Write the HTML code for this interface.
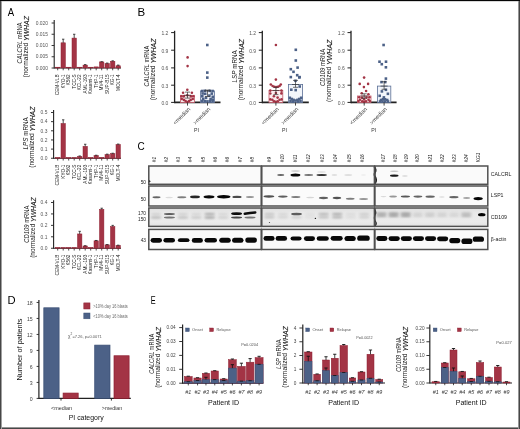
<!DOCTYPE html>
<html><head><meta charset="utf-8"><style>
html,body{margin:0;padding:0;background:#fff;}
#fig{position:relative;width:520px;height:429px;overflow:hidden;background:#fff;}
svg{position:absolute;left:0;top:0;will-change:transform;}
text{font-family:"Liberation Sans", sans-serif;}
</style></head><body><div id="fig">
<svg width="520" height="429" viewBox="0 0 520 429">
<rect x="0" y="0" width="520" height="429" fill="#fff"/>
<text x="7.70" y="15.80" font-size="11.2" fill="#000" text-anchor="start" textLength="6.4" lengthAdjust="spacingAndGlyphs" >A</text>
<text x="137.40" y="15.90" font-size="11.5" fill="#000" text-anchor="start" >B</text>
<text x="137.60" y="150.30" font-size="11.6" fill="#000" text-anchor="start" textLength="7.2" lengthAdjust="spacingAndGlyphs" >C</text>
<text x="7.40" y="304.00" font-size="11.2" fill="#000" text-anchor="start" >D</text>
<text x="150.80" y="304.00" font-size="11.2" fill="#000" text-anchor="start" textLength="4.9" lengthAdjust="spacingAndGlyphs" >E</text>
<text x="21.60" y="43.00" font-size="8.0" fill="#1a1a1a" text-anchor="middle" transform="rotate(-90 21.60 43.00)" textLength="41" lengthAdjust="spacingAndGlyphs" ><tspan font-style="italic">CALCRL</tspan> mRNA</text>
<text x="28.50" y="46.80" font-size="7.5" fill="#1a1a1a" text-anchor="middle" transform="rotate(-90 28.50 46.80)" textLength="61.5" lengthAdjust="spacingAndGlyphs" >(normalized <tspan font-style="italic" font-size="7.80" dy="1.0" stroke="#1a1a1a" stroke-width="0.12">YWHAZ</tspan></text>
<line x1="54.20" y1="20.00" x2="54.20" y2="68.50" stroke="#222" stroke-width="1.1"/>
<line x1="51.60" y1="23.00" x2="54.20" y2="23.00" stroke="#222" stroke-width="0.9"/>
<text x="48.00" y="24.70" font-size="4.9" fill="#555" text-anchor="end" >0.020</text>
<line x1="51.60" y1="34.25" x2="54.20" y2="34.25" stroke="#222" stroke-width="0.9"/>
<text x="48.00" y="35.95" font-size="4.9" fill="#555" text-anchor="end" >0.015</text>
<line x1="51.60" y1="45.50" x2="54.20" y2="45.50" stroke="#222" stroke-width="0.9"/>
<text x="48.00" y="47.20" font-size="4.9" fill="#555" text-anchor="end" >0.010</text>
<line x1="51.60" y1="56.75" x2="54.20" y2="56.75" stroke="#222" stroke-width="0.9"/>
<text x="48.00" y="58.45" font-size="4.9" fill="#555" text-anchor="end" >0.005</text>
<line x1="51.60" y1="68.00" x2="54.20" y2="68.00" stroke="#222" stroke-width="0.9"/>
<text x="48.00" y="69.70" font-size="4.9" fill="#555" text-anchor="end" >0.000</text>
<line x1="54.20" y1="68.00" x2="121.00" y2="68.00" stroke="#222" stroke-width="1.1"/>
<line x1="57.70" y1="68.00" x2="57.70" y2="70.30" stroke="#222" stroke-width="0.8"/>
<rect x="55.50" y="67.20" width="4.40" height="0.80" fill="#a33445" stroke="#8e1f31" stroke-width="0.5"/>
<text x="59.30" y="74.40" font-size="4.7" fill="#222" text-anchor="end" transform="rotate(-90 59.30 74.40)" >CEM-VLB</text>
<line x1="63.20" y1="68.00" x2="63.20" y2="70.30" stroke="#222" stroke-width="0.8"/>
<rect x="61.00" y="42.80" width="4.40" height="25.20" fill="#a33445" stroke="#8e1f31" stroke-width="0.5"/>
<line x1="63.20" y1="39.20" x2="63.20" y2="42.80" stroke="#222" stroke-width="0.8"/>
<line x1="62.00" y1="39.20" x2="64.40" y2="39.20" stroke="#222" stroke-width="0.8"/>
<text x="64.80" y="74.40" font-size="4.7" fill="#222" text-anchor="end" transform="rotate(-90 64.80 74.40)" >KYO-1</text>
<line x1="68.70" y1="68.00" x2="68.70" y2="70.30" stroke="#222" stroke-width="0.8"/>
<rect x="66.50" y="67.20" width="4.40" height="0.80" fill="#a33445" stroke="#8e1f31" stroke-width="0.5"/>
<text x="70.30" y="74.40" font-size="4.7" fill="#222" text-anchor="end" transform="rotate(-90 70.30 74.40)" >K562</text>
<line x1="74.20" y1="68.00" x2="74.20" y2="70.30" stroke="#222" stroke-width="0.8"/>
<rect x="72.00" y="38.08" width="4.40" height="29.92" fill="#a33445" stroke="#8e1f31" stroke-width="0.5"/>
<line x1="74.20" y1="34.25" x2="74.20" y2="38.08" stroke="#222" stroke-width="0.8"/>
<line x1="73.00" y1="34.25" x2="75.40" y2="34.25" stroke="#222" stroke-width="0.8"/>
<text x="75.80" y="74.40" font-size="4.7" fill="#222" text-anchor="end" transform="rotate(-90 75.80 74.40)" >TCC-S</text>
<line x1="79.70" y1="68.00" x2="79.70" y2="70.30" stroke="#222" stroke-width="0.8"/>
<rect x="77.50" y="67.20" width="4.40" height="0.80" fill="#a33445" stroke="#8e1f31" stroke-width="0.5"/>
<text x="81.30" y="74.40" font-size="4.7" fill="#222" text-anchor="end" transform="rotate(-90 81.30 74.40)" >KCL-22</text>
<line x1="85.20" y1="68.00" x2="85.20" y2="70.30" stroke="#222" stroke-width="0.8"/>
<rect x="83.00" y="65.08" width="4.40" height="2.92" fill="#a33445" stroke="#8e1f31" stroke-width="0.5"/>
<line x1="85.20" y1="64.62" x2="85.20" y2="65.08" stroke="#222" stroke-width="0.8"/>
<line x1="84.00" y1="64.62" x2="86.40" y2="64.62" stroke="#222" stroke-width="0.8"/>
<text x="86.80" y="74.40" font-size="4.7" fill="#222" text-anchor="end" transform="rotate(-90 86.80 74.40)" >AML-193</text>
<line x1="90.70" y1="68.00" x2="90.70" y2="70.30" stroke="#222" stroke-width="0.8"/>
<rect x="88.50" y="67.20" width="4.40" height="0.80" fill="#a33445" stroke="#8e1f31" stroke-width="0.5"/>
<text x="92.30" y="74.40" font-size="4.7" fill="#222" text-anchor="end" transform="rotate(-90 92.30 74.40)" >Kasumi-1</text>
<line x1="96.20" y1="68.00" x2="96.20" y2="70.30" stroke="#222" stroke-width="0.8"/>
<rect x="94.00" y="66.88" width="4.40" height="1.12" fill="#a33445" stroke="#8e1f31" stroke-width="0.5"/>
<text x="97.80" y="74.40" font-size="4.7" fill="#222" text-anchor="end" transform="rotate(-90 97.80 74.40)" >THP-1</text>
<line x1="101.70" y1="68.00" x2="101.70" y2="70.30" stroke="#222" stroke-width="0.8"/>
<rect x="99.50" y="61.92" width="4.40" height="6.08" fill="#a33445" stroke="#8e1f31" stroke-width="0.5"/>
<line x1="101.70" y1="61.70" x2="101.70" y2="61.92" stroke="#222" stroke-width="0.8"/>
<line x1="100.50" y1="61.70" x2="102.90" y2="61.70" stroke="#222" stroke-width="0.8"/>
<text x="103.30" y="74.40" font-size="4.7" fill="#222" text-anchor="end" transform="rotate(-90 103.30 74.40)" >MV4-11</text>
<line x1="107.20" y1="68.00" x2="107.20" y2="70.30" stroke="#222" stroke-width="0.8"/>
<rect x="105.00" y="63.50" width="4.40" height="4.50" fill="#a33445" stroke="#8e1f31" stroke-width="0.5"/>
<line x1="107.20" y1="63.05" x2="107.20" y2="63.50" stroke="#222" stroke-width="0.8"/>
<line x1="106.00" y1="63.05" x2="108.40" y2="63.05" stroke="#222" stroke-width="0.8"/>
<text x="108.80" y="74.40" font-size="4.7" fill="#222" text-anchor="end" transform="rotate(-90 108.80 74.40)" >SUP-B15</text>
<line x1="112.70" y1="68.00" x2="112.70" y2="70.30" stroke="#222" stroke-width="0.8"/>
<rect x="110.50" y="61.25" width="4.40" height="6.75" fill="#a33445" stroke="#8e1f31" stroke-width="0.5"/>
<line x1="112.70" y1="60.80" x2="112.70" y2="61.25" stroke="#222" stroke-width="0.8"/>
<line x1="111.50" y1="60.80" x2="113.90" y2="60.80" stroke="#222" stroke-width="0.8"/>
<text x="114.30" y="74.40" font-size="4.7" fill="#222" text-anchor="end" transform="rotate(-90 114.30 74.40)" >KG-1</text>
<line x1="118.20" y1="68.00" x2="118.20" y2="70.30" stroke="#222" stroke-width="0.8"/>
<rect x="116.00" y="65.75" width="4.40" height="2.25" fill="#a33445" stroke="#8e1f31" stroke-width="0.5"/>
<line x1="118.20" y1="65.08" x2="118.20" y2="65.75" stroke="#222" stroke-width="0.8"/>
<line x1="117.00" y1="65.08" x2="119.40" y2="65.08" stroke="#222" stroke-width="0.8"/>
<text x="119.80" y="74.40" font-size="4.7" fill="#222" text-anchor="end" transform="rotate(-90 119.80 74.40)" >MOLT-4</text>
<text x="28.10" y="133.40" font-size="8.0" fill="#1a1a1a" text-anchor="middle" transform="rotate(-90 28.10 133.40)" textLength="32.3" lengthAdjust="spacingAndGlyphs" ><tspan font-style="italic">LPS</tspan> mRNA</text>
<text x="34.40" y="137.20" font-size="7.5" fill="#1a1a1a" text-anchor="middle" transform="rotate(-90 34.40 137.20)" textLength="61.2" lengthAdjust="spacingAndGlyphs" >(normalized <tspan font-style="italic" font-size="7.80" dy="1.0" stroke="#1a1a1a" stroke-width="0.12">YWHAZ</tspan></text>
<line x1="53.60" y1="110.00" x2="53.60" y2="158.75" stroke="#222" stroke-width="1.1"/>
<line x1="51.00" y1="112.50" x2="53.60" y2="112.50" stroke="#222" stroke-width="0.9"/>
<text x="47.40" y="114.20" font-size="4.9" fill="#555" text-anchor="end" >0.5</text>
<line x1="51.00" y1="121.65" x2="53.60" y2="121.65" stroke="#222" stroke-width="0.9"/>
<text x="47.40" y="123.35" font-size="4.9" fill="#555" text-anchor="end" >0.4</text>
<line x1="51.00" y1="130.80" x2="53.60" y2="130.80" stroke="#222" stroke-width="0.9"/>
<text x="47.40" y="132.50" font-size="4.9" fill="#555" text-anchor="end" >0.3</text>
<line x1="51.00" y1="139.95" x2="53.60" y2="139.95" stroke="#222" stroke-width="0.9"/>
<text x="47.40" y="141.65" font-size="4.9" fill="#555" text-anchor="end" >0.2</text>
<line x1="51.00" y1="149.10" x2="53.60" y2="149.10" stroke="#222" stroke-width="0.9"/>
<text x="47.40" y="150.80" font-size="4.9" fill="#555" text-anchor="end" >0.1</text>
<line x1="51.00" y1="158.25" x2="53.60" y2="158.25" stroke="#222" stroke-width="0.9"/>
<text x="47.40" y="159.95" font-size="4.9" fill="#555" text-anchor="end" >0.0</text>
<line x1="53.60" y1="158.25" x2="121.00" y2="158.25" stroke="#222" stroke-width="1.1"/>
<line x1="57.70" y1="158.25" x2="57.70" y2="160.55" stroke="#222" stroke-width="0.8"/>
<rect x="55.50" y="157.45" width="4.40" height="0.80" fill="#a33445" stroke="#8e1f31" stroke-width="0.5"/>
<text x="59.30" y="164.65" font-size="4.7" fill="#222" text-anchor="end" transform="rotate(-90 59.30 164.65)" >CEM-VLB</text>
<line x1="63.20" y1="158.25" x2="63.20" y2="160.55" stroke="#222" stroke-width="0.8"/>
<rect x="61.00" y="123.48" width="4.40" height="34.77" fill="#a33445" stroke="#8e1f31" stroke-width="0.5"/>
<line x1="63.20" y1="119.82" x2="63.20" y2="123.48" stroke="#222" stroke-width="0.8"/>
<line x1="62.00" y1="119.82" x2="64.40" y2="119.82" stroke="#222" stroke-width="0.8"/>
<text x="64.80" y="164.65" font-size="4.7" fill="#222" text-anchor="end" transform="rotate(-90 64.80 164.65)" >KYO-1</text>
<line x1="68.70" y1="158.25" x2="68.70" y2="160.55" stroke="#222" stroke-width="0.8"/>
<rect x="66.50" y="157.45" width="4.40" height="0.80" fill="#a33445" stroke="#8e1f31" stroke-width="0.5"/>
<text x="70.30" y="164.65" font-size="4.7" fill="#222" text-anchor="end" transform="rotate(-90 70.30 164.65)" >K562</text>
<line x1="74.20" y1="158.25" x2="74.20" y2="160.55" stroke="#222" stroke-width="0.8"/>
<rect x="72.00" y="157.45" width="4.40" height="0.80" fill="#a33445" stroke="#8e1f31" stroke-width="0.5"/>
<text x="75.80" y="164.65" font-size="4.7" fill="#222" text-anchor="end" transform="rotate(-90 75.80 164.65)" >TCC-S</text>
<line x1="79.70" y1="158.25" x2="79.70" y2="160.55" stroke="#222" stroke-width="0.8"/>
<rect x="77.50" y="156.42" width="4.40" height="1.83" fill="#a33445" stroke="#8e1f31" stroke-width="0.5"/>
<line x1="79.70" y1="155.96" x2="79.70" y2="156.42" stroke="#222" stroke-width="0.8"/>
<line x1="78.50" y1="155.96" x2="80.90" y2="155.96" stroke="#222" stroke-width="0.8"/>
<text x="81.30" y="164.65" font-size="4.7" fill="#222" text-anchor="end" transform="rotate(-90 81.30 164.65)" >KCL-22</text>
<line x1="85.20" y1="158.25" x2="85.20" y2="160.55" stroke="#222" stroke-width="0.8"/>
<rect x="83.00" y="146.35" width="4.40" height="11.89" fill="#a33445" stroke="#8e1f31" stroke-width="0.5"/>
<line x1="85.20" y1="144.25" x2="85.20" y2="146.35" stroke="#222" stroke-width="0.8"/>
<line x1="84.00" y1="144.25" x2="86.40" y2="144.25" stroke="#222" stroke-width="0.8"/>
<text x="86.80" y="164.65" font-size="4.7" fill="#222" text-anchor="end" transform="rotate(-90 86.80 164.65)" >AML-193</text>
<line x1="90.70" y1="158.25" x2="90.70" y2="160.55" stroke="#222" stroke-width="0.8"/>
<rect x="88.50" y="157.45" width="4.40" height="0.80" fill="#a33445" stroke="#8e1f31" stroke-width="0.5"/>
<text x="92.30" y="164.65" font-size="4.7" fill="#222" text-anchor="end" transform="rotate(-90 92.30 164.65)" >Kasumi-1</text>
<line x1="96.20" y1="158.25" x2="96.20" y2="160.55" stroke="#222" stroke-width="0.8"/>
<rect x="94.00" y="155.50" width="4.40" height="2.75" fill="#a33445" stroke="#8e1f31" stroke-width="0.5"/>
<line x1="96.20" y1="155.23" x2="96.20" y2="155.50" stroke="#222" stroke-width="0.8"/>
<line x1="95.00" y1="155.23" x2="97.40" y2="155.23" stroke="#222" stroke-width="0.8"/>
<text x="97.80" y="164.65" font-size="4.7" fill="#222" text-anchor="end" transform="rotate(-90 97.80 164.65)" >THP-1</text>
<line x1="101.70" y1="158.25" x2="101.70" y2="160.55" stroke="#222" stroke-width="0.8"/>
<rect x="99.50" y="157.34" width="4.40" height="0.92" fill="#a33445" stroke="#8e1f31" stroke-width="0.5"/>
<text x="103.30" y="164.65" font-size="4.7" fill="#222" text-anchor="end" transform="rotate(-90 103.30 164.65)" >MV4-11</text>
<line x1="107.20" y1="158.25" x2="107.20" y2="160.55" stroke="#222" stroke-width="0.8"/>
<rect x="105.00" y="154.59" width="4.40" height="3.66" fill="#a33445" stroke="#8e1f31" stroke-width="0.5"/>
<line x1="107.20" y1="154.13" x2="107.20" y2="154.59" stroke="#222" stroke-width="0.8"/>
<line x1="106.00" y1="154.13" x2="108.40" y2="154.13" stroke="#222" stroke-width="0.8"/>
<text x="108.80" y="164.65" font-size="4.7" fill="#222" text-anchor="end" transform="rotate(-90 108.80 164.65)" >SUP-B15</text>
<line x1="112.70" y1="158.25" x2="112.70" y2="160.55" stroke="#222" stroke-width="0.8"/>
<rect x="110.50" y="153.68" width="4.40" height="4.58" fill="#a33445" stroke="#8e1f31" stroke-width="0.5"/>
<line x1="112.70" y1="153.22" x2="112.70" y2="153.68" stroke="#222" stroke-width="0.8"/>
<line x1="111.50" y1="153.22" x2="113.90" y2="153.22" stroke="#222" stroke-width="0.8"/>
<text x="114.30" y="164.65" font-size="4.7" fill="#222" text-anchor="end" transform="rotate(-90 114.30 164.65)" >KG-1</text>
<line x1="118.20" y1="158.25" x2="118.20" y2="160.55" stroke="#222" stroke-width="0.8"/>
<rect x="116.00" y="144.53" width="4.40" height="13.72" fill="#a33445" stroke="#8e1f31" stroke-width="0.5"/>
<line x1="118.20" y1="144.07" x2="118.20" y2="144.53" stroke="#222" stroke-width="0.8"/>
<line x1="117.00" y1="144.07" x2="119.40" y2="144.07" stroke="#222" stroke-width="0.8"/>
<text x="119.80" y="164.65" font-size="4.7" fill="#222" text-anchor="end" transform="rotate(-90 119.80 164.65)" >MOLT-4</text>
<text x="28.60" y="224.10" font-size="8.0" fill="#1a1a1a" text-anchor="middle" transform="rotate(-90 28.60 224.10)" textLength="37.1" lengthAdjust="spacingAndGlyphs" ><tspan font-style="italic">CD109</tspan> mRNA</text>
<text x="34.80" y="227.60" font-size="7.5" fill="#1a1a1a" text-anchor="middle" transform="rotate(-90 34.80 227.60)" textLength="60.4" lengthAdjust="spacingAndGlyphs" >(normalized <tspan font-style="italic" font-size="7.80" dy="1.0" stroke="#1a1a1a" stroke-width="0.12">YWHAZ</tspan></text>
<line x1="53.60" y1="200.30" x2="53.60" y2="248.75" stroke="#222" stroke-width="1.1"/>
<line x1="51.00" y1="202.49" x2="53.60" y2="202.49" stroke="#222" stroke-width="0.9"/>
<text x="47.40" y="204.19" font-size="4.9" fill="#555" text-anchor="end" >0.4</text>
<line x1="51.00" y1="213.93" x2="53.60" y2="213.93" stroke="#222" stroke-width="0.9"/>
<text x="47.40" y="215.63" font-size="4.9" fill="#555" text-anchor="end" >0.3</text>
<line x1="51.00" y1="225.37" x2="53.60" y2="225.37" stroke="#222" stroke-width="0.9"/>
<text x="47.40" y="227.07" font-size="4.9" fill="#555" text-anchor="end" >0.2</text>
<line x1="51.00" y1="236.81" x2="53.60" y2="236.81" stroke="#222" stroke-width="0.9"/>
<text x="47.40" y="238.51" font-size="4.9" fill="#555" text-anchor="end" >0.1</text>
<line x1="51.00" y1="248.25" x2="53.60" y2="248.25" stroke="#222" stroke-width="0.9"/>
<text x="47.40" y="249.95" font-size="4.9" fill="#555" text-anchor="end" >0.0</text>
<line x1="53.60" y1="248.25" x2="121.00" y2="248.25" stroke="#222" stroke-width="1.1"/>
<line x1="57.70" y1="248.25" x2="57.70" y2="250.55" stroke="#222" stroke-width="0.8"/>
<rect x="55.50" y="247.45" width="4.40" height="0.80" fill="#a33445" stroke="#8e1f31" stroke-width="0.5"/>
<text x="59.30" y="254.65" font-size="4.7" fill="#222" text-anchor="end" transform="rotate(-90 59.30 254.65)" >CEM-VLB</text>
<line x1="63.20" y1="248.25" x2="63.20" y2="250.55" stroke="#222" stroke-width="0.8"/>
<rect x="61.00" y="247.45" width="4.40" height="0.80" fill="#a33445" stroke="#8e1f31" stroke-width="0.5"/>
<text x="64.80" y="254.65" font-size="4.7" fill="#222" text-anchor="end" transform="rotate(-90 64.80 254.65)" >KYO-1</text>
<line x1="68.70" y1="248.25" x2="68.70" y2="250.55" stroke="#222" stroke-width="0.8"/>
<rect x="66.50" y="247.45" width="4.40" height="0.80" fill="#a33445" stroke="#8e1f31" stroke-width="0.5"/>
<text x="70.30" y="254.65" font-size="4.7" fill="#222" text-anchor="end" transform="rotate(-90 70.30 254.65)" >K562</text>
<line x1="74.20" y1="248.25" x2="74.20" y2="250.55" stroke="#222" stroke-width="0.8"/>
<rect x="72.00" y="247.45" width="4.40" height="0.80" fill="#a33445" stroke="#8e1f31" stroke-width="0.5"/>
<text x="75.80" y="254.65" font-size="4.7" fill="#222" text-anchor="end" transform="rotate(-90 75.80 254.65)" >TCC-S</text>
<line x1="79.70" y1="248.25" x2="79.70" y2="250.55" stroke="#222" stroke-width="0.8"/>
<rect x="77.50" y="233.95" width="4.40" height="14.30" fill="#a33445" stroke="#8e1f31" stroke-width="0.5"/>
<line x1="79.70" y1="231.32" x2="79.70" y2="233.95" stroke="#222" stroke-width="0.8"/>
<line x1="78.50" y1="231.32" x2="80.90" y2="231.32" stroke="#222" stroke-width="0.8"/>
<text x="81.30" y="254.65" font-size="4.7" fill="#222" text-anchor="end" transform="rotate(-90 81.30 254.65)" >KCL-22</text>
<line x1="85.20" y1="248.25" x2="85.20" y2="250.55" stroke="#222" stroke-width="0.8"/>
<rect x="83.00" y="245.96" width="4.40" height="2.29" fill="#a33445" stroke="#8e1f31" stroke-width="0.5"/>
<line x1="85.20" y1="245.73" x2="85.20" y2="245.96" stroke="#222" stroke-width="0.8"/>
<line x1="84.00" y1="245.73" x2="86.40" y2="245.73" stroke="#222" stroke-width="0.8"/>
<text x="86.80" y="254.65" font-size="4.7" fill="#222" text-anchor="end" transform="rotate(-90 86.80 254.65)" >AML-193</text>
<line x1="90.70" y1="248.25" x2="90.70" y2="250.55" stroke="#222" stroke-width="0.8"/>
<rect x="88.50" y="247.45" width="4.40" height="0.80" fill="#a33445" stroke="#8e1f31" stroke-width="0.5"/>
<text x="92.30" y="254.65" font-size="4.7" fill="#222" text-anchor="end" transform="rotate(-90 92.30 254.65)" >Kasumi-1</text>
<line x1="96.20" y1="248.25" x2="96.20" y2="250.55" stroke="#222" stroke-width="0.8"/>
<rect x="94.00" y="240.81" width="4.40" height="7.44" fill="#a33445" stroke="#8e1f31" stroke-width="0.5"/>
<line x1="96.20" y1="240.47" x2="96.20" y2="240.81" stroke="#222" stroke-width="0.8"/>
<line x1="95.00" y1="240.47" x2="97.40" y2="240.47" stroke="#222" stroke-width="0.8"/>
<text x="97.80" y="254.65" font-size="4.7" fill="#222" text-anchor="end" transform="rotate(-90 97.80 254.65)" >THP-1</text>
<line x1="101.70" y1="248.25" x2="101.70" y2="250.55" stroke="#222" stroke-width="0.8"/>
<rect x="99.50" y="209.35" width="4.40" height="38.90" fill="#a33445" stroke="#8e1f31" stroke-width="0.5"/>
<line x1="101.70" y1="208.21" x2="101.70" y2="209.35" stroke="#222" stroke-width="0.8"/>
<line x1="100.50" y1="208.21" x2="102.90" y2="208.21" stroke="#222" stroke-width="0.8"/>
<text x="103.30" y="254.65" font-size="4.7" fill="#222" text-anchor="end" transform="rotate(-90 103.30 254.65)" >MV4-11</text>
<line x1="107.20" y1="248.25" x2="107.20" y2="250.55" stroke="#222" stroke-width="0.8"/>
<rect x="105.00" y="244.82" width="4.40" height="3.43" fill="#a33445" stroke="#8e1f31" stroke-width="0.5"/>
<line x1="107.20" y1="244.59" x2="107.20" y2="244.82" stroke="#222" stroke-width="0.8"/>
<line x1="106.00" y1="244.59" x2="108.40" y2="244.59" stroke="#222" stroke-width="0.8"/>
<text x="108.80" y="254.65" font-size="4.7" fill="#222" text-anchor="end" transform="rotate(-90 108.80 254.65)" >SUP-B15</text>
<line x1="112.70" y1="248.25" x2="112.70" y2="250.55" stroke="#222" stroke-width="0.8"/>
<rect x="110.50" y="226.51" width="4.40" height="21.74" fill="#a33445" stroke="#8e1f31" stroke-width="0.5"/>
<line x1="112.70" y1="225.37" x2="112.70" y2="226.51" stroke="#222" stroke-width="0.8"/>
<line x1="111.50" y1="225.37" x2="113.90" y2="225.37" stroke="#222" stroke-width="0.8"/>
<text x="114.30" y="254.65" font-size="4.7" fill="#222" text-anchor="end" transform="rotate(-90 114.30 254.65)" >KG-1</text>
<line x1="118.20" y1="248.25" x2="118.20" y2="250.55" stroke="#222" stroke-width="0.8"/>
<rect x="116.00" y="245.39" width="4.40" height="2.86" fill="#a33445" stroke="#8e1f31" stroke-width="0.5"/>
<line x1="118.20" y1="245.16" x2="118.20" y2="245.39" stroke="#222" stroke-width="0.8"/>
<line x1="117.00" y1="245.16" x2="119.40" y2="245.16" stroke="#222" stroke-width="0.8"/>
<text x="119.80" y="254.65" font-size="4.7" fill="#222" text-anchor="end" transform="rotate(-90 119.80 254.65)" >MOLT-4</text>
<text x="148.60" y="66.10" font-size="7.8" fill="#1a1a1a" text-anchor="middle" transform="rotate(-90 148.60 66.10)" textLength="40.6" lengthAdjust="spacingAndGlyphs" ><tspan font-style="italic">CALCRL</tspan> mRNA</text>
<text x="154.80" y="69.40" font-size="7.1" fill="#1a1a1a" text-anchor="middle" transform="rotate(-90 154.80 69.40)" textLength="61.8" lengthAdjust="spacingAndGlyphs" >(normalized <tspan font-style="italic" font-size="7.38" dy="1.0" stroke="#1a1a1a" stroke-width="0.12">YWHAZ</tspan></text>
<line x1="174.60" y1="30.80" x2="174.60" y2="103.20" stroke="#222" stroke-width="1.3"/>
<line x1="171.10" y1="32.60" x2="174.60" y2="32.60" stroke="#222" stroke-width="1.0"/>
<text x="168.40" y="35.00" font-size="5.0" fill="#555" text-anchor="end" >1.2</text>
<line x1="171.10" y1="50.20" x2="174.60" y2="50.20" stroke="#222" stroke-width="1.0"/>
<text x="168.40" y="52.60" font-size="5.0" fill="#555" text-anchor="end" >0.9</text>
<line x1="171.10" y1="67.90" x2="174.60" y2="67.90" stroke="#222" stroke-width="1.0"/>
<text x="168.40" y="70.30" font-size="5.0" fill="#555" text-anchor="end" >0.6</text>
<line x1="171.10" y1="85.20" x2="174.60" y2="85.20" stroke="#222" stroke-width="1.0"/>
<text x="168.40" y="87.60" font-size="5.0" fill="#555" text-anchor="end" >0.3</text>
<line x1="171.10" y1="102.40" x2="174.60" y2="102.40" stroke="#222" stroke-width="1.0"/>
<text x="168.40" y="104.80" font-size="5.0" fill="#555" text-anchor="end" >0.0</text>
<line x1="174.60" y1="102.40" x2="220.50" y2="102.40" stroke="#222" stroke-width="1.6"/>
<rect x="180.40" y="95.30" width="14.20" height="7.10" fill="#fbeef0" stroke="#c45a6a" stroke-width="0.8"/>
<rect x="200.40" y="90.90" width="14.20" height="11.50" fill="#f2f5fa" stroke="#5a6f95" stroke-width="0.8"/>
<circle cx="187.60" cy="57.40" r="1.3" fill="#a33445"/>
<circle cx="187.60" cy="66.10" r="1.3" fill="#a33445"/>
<circle cx="187.30" cy="89.70" r="1.3" fill="#a33445"/>
<circle cx="183.10" cy="92.70" r="1.3" fill="#a33445"/>
<circle cx="191.90" cy="92.70" r="1.3" fill="#a33445"/>
<circle cx="187.30" cy="95.30" r="1.3" fill="#a33445"/>
<circle cx="181.50" cy="96.20" r="1.3" fill="#a33445"/>
<circle cx="183.80" cy="96.40" r="1.3" fill="#a33445"/>
<circle cx="190.90" cy="96.40" r="1.3" fill="#a33445"/>
<circle cx="193.30" cy="96.20" r="1.3" fill="#a33445"/>
<circle cx="181.80" cy="98.90" r="1.3" fill="#a33445"/>
<circle cx="183.90" cy="99.90" r="1.3" fill="#a33445"/>
<circle cx="185.60" cy="101.00" r="1.3" fill="#a33445"/>
<circle cx="187.30" cy="102.00" r="1.3" fill="#a33445"/>
<circle cx="189.10" cy="101.00" r="1.3" fill="#a33445"/>
<circle cx="190.70" cy="99.90" r="1.3" fill="#a33445"/>
<circle cx="192.80" cy="98.90" r="1.3" fill="#a33445"/>
<rect x="206.00" y="43.70" width="2.6" height="2.6" fill="#4c6187"/>
<rect x="206.00" y="71.30" width="2.6" height="2.6" fill="#4c6187"/>
<rect x="206.00" y="76.30" width="2.6" height="2.6" fill="#4c6187"/>
<rect x="200.90" y="89.70" width="2.6" height="2.6" fill="#4c6187"/>
<rect x="203.50" y="89.50" width="2.6" height="2.6" fill="#4c6187"/>
<rect x="208.50" y="89.50" width="2.6" height="2.6" fill="#4c6187"/>
<rect x="211.30" y="89.70" width="2.6" height="2.6" fill="#4c6187"/>
<rect x="201.30" y="92.20" width="2.6" height="2.6" fill="#4c6187"/>
<rect x="203.90" y="92.50" width="2.6" height="2.6" fill="#4c6187"/>
<rect x="210.50" y="92.30" width="2.6" height="2.6" fill="#4c6187"/>
<rect x="208.10" y="94.30" width="2.6" height="2.6" fill="#4c6187"/>
<rect x="201.00" y="95.00" width="2.6" height="2.6" fill="#4c6187"/>
<rect x="211.50" y="95.50" width="2.6" height="2.6" fill="#4c6187"/>
<rect x="204.70" y="96.50" width="2.6" height="2.6" fill="#4c6187"/>
<rect x="201.90" y="97.70" width="2.6" height="2.6" fill="#4c6187"/>
<rect x="209.30" y="97.70" width="2.6" height="2.6" fill="#4c6187"/>
<rect x="211.50" y="98.30" width="2.6" height="2.6" fill="#4c6187"/>
<rect x="200.90" y="99.60" width="2.6" height="2.6" fill="#4c6187"/>
<rect x="203.50" y="99.90" width="2.6" height="2.6" fill="#4c6187"/>
<rect x="206.10" y="100.10" width="2.6" height="2.6" fill="#4c6187"/>
<rect x="208.70" y="99.90" width="2.6" height="2.6" fill="#4c6187"/>
<rect x="211.30" y="99.60" width="2.6" height="2.6" fill="#4c6187"/>
<line x1="187.50" y1="92.10" x2="187.50" y2="98.10" stroke="#333" stroke-width="0.7"/>
<line x1="185.00" y1="92.10" x2="190.00" y2="92.10" stroke="#333" stroke-width="0.7"/>
<line x1="185.00" y1="98.10" x2="190.00" y2="98.10" stroke="#333" stroke-width="0.7"/>
<line x1="184.00" y1="95.30" x2="191.00" y2="95.30" stroke="#333" stroke-width="0.7"/>
<line x1="207.50" y1="90.10" x2="207.50" y2="96.50" stroke="#333" stroke-width="0.7"/>
<line x1="205.00" y1="90.10" x2="210.00" y2="90.10" stroke="#333" stroke-width="0.7"/>
<line x1="205.00" y1="96.50" x2="210.00" y2="96.50" stroke="#333" stroke-width="0.7"/>
<line x1="204.00" y1="90.90" x2="211.00" y2="90.90" stroke="#333" stroke-width="0.7"/>
<text x="190.70" y="109.60" font-size="5.6" fill="#333" text-anchor="end" transform="rotate(-45 190.70 109.60)" >&lt;median</text>
<text x="210.70" y="109.60" font-size="5.6" fill="#333" text-anchor="end" transform="rotate(-45 210.70 109.60)" >&gt;median</text>
<line x1="187.50" y1="102.40" x2="187.50" y2="105.60" stroke="#333" stroke-width="0.9"/>
<line x1="207.50" y1="102.40" x2="207.50" y2="105.60" stroke="#333" stroke-width="0.9"/>
<text x="196.50" y="131.60" font-size="5.2" fill="#333" text-anchor="middle" >PI</text>
<text x="237.10" y="66.40" font-size="7.8" fill="#1a1a1a" text-anchor="middle" transform="rotate(-90 237.10 66.40)" textLength="32" lengthAdjust="spacingAndGlyphs" ><tspan font-style="italic">LSP</tspan> mRNA</text>
<text x="242.70" y="69.60" font-size="7.1" fill="#1a1a1a" text-anchor="middle" transform="rotate(-90 242.70 69.60)" textLength="61.2" lengthAdjust="spacingAndGlyphs" >(normalized <tspan font-style="italic" font-size="7.38" dy="1.0" stroke="#1a1a1a" stroke-width="0.12">YWHAZ</tspan></text>
<line x1="262.30" y1="30.80" x2="262.30" y2="103.20" stroke="#222" stroke-width="1.3"/>
<line x1="258.80" y1="32.60" x2="262.30" y2="32.60" stroke="#222" stroke-width="1.0"/>
<text x="256.10" y="35.00" font-size="5.0" fill="#555" text-anchor="end" >1.2</text>
<line x1="258.80" y1="50.20" x2="262.30" y2="50.20" stroke="#222" stroke-width="1.0"/>
<text x="256.10" y="52.60" font-size="5.0" fill="#555" text-anchor="end" >0.9</text>
<line x1="258.80" y1="67.90" x2="262.30" y2="67.90" stroke="#222" stroke-width="1.0"/>
<text x="256.10" y="70.30" font-size="5.0" fill="#555" text-anchor="end" >0.6</text>
<line x1="258.80" y1="85.20" x2="262.30" y2="85.20" stroke="#222" stroke-width="1.0"/>
<text x="256.10" y="87.60" font-size="5.0" fill="#555" text-anchor="end" >0.3</text>
<line x1="258.80" y1="102.40" x2="262.30" y2="102.40" stroke="#222" stroke-width="1.0"/>
<text x="256.10" y="104.80" font-size="5.0" fill="#555" text-anchor="end" >0.0</text>
<line x1="262.30" y1="102.40" x2="308.80" y2="102.40" stroke="#222" stroke-width="1.6"/>
<rect x="269.00" y="90.50" width="13.80" height="11.90" fill="#fbeef0" stroke="#c45a6a" stroke-width="0.8"/>
<rect x="288.40" y="84.50" width="14.20" height="17.90" fill="#f2f5fa" stroke="#5a6f95" stroke-width="0.8"/>
<circle cx="275.90" cy="45.00" r="1.3" fill="#a33445"/>
<circle cx="275.90" cy="79.60" r="1.3" fill="#a33445"/>
<circle cx="270.80" cy="84.50" r="1.3" fill="#a33445"/>
<circle cx="280.80" cy="84.50" r="1.3" fill="#a33445"/>
<circle cx="272.60" cy="86.00" r="1.3" fill="#a33445"/>
<circle cx="274.30" cy="86.80" r="1.3" fill="#a33445"/>
<circle cx="276.20" cy="87.10" r="1.3" fill="#a33445"/>
<circle cx="278.00" cy="86.80" r="1.3" fill="#a33445"/>
<circle cx="279.60" cy="86.00" r="1.3" fill="#a33445"/>
<circle cx="270.30" cy="90.60" r="1.3" fill="#a33445"/>
<circle cx="281.40" cy="90.60" r="1.3" fill="#a33445"/>
<circle cx="275.90" cy="93.00" r="1.3" fill="#a33445"/>
<circle cx="270.30" cy="93.50" r="1.3" fill="#a33445"/>
<circle cx="281.40" cy="93.40" r="1.3" fill="#a33445"/>
<circle cx="273.90" cy="96.20" r="1.3" fill="#a33445"/>
<circle cx="277.60" cy="97.60" r="1.3" fill="#a33445"/>
<circle cx="270.30" cy="99.40" r="1.3" fill="#a33445"/>
<circle cx="272.30" cy="99.80" r="1.3" fill="#a33445"/>
<circle cx="279.60" cy="99.80" r="1.3" fill="#a33445"/>
<circle cx="281.60" cy="99.40" r="1.3" fill="#a33445"/>
<circle cx="274.00" cy="101.20" r="1.3" fill="#a33445"/>
<circle cx="275.90" cy="101.80" r="1.3" fill="#a33445"/>
<circle cx="277.80" cy="101.20" r="1.3" fill="#a33445"/>
<rect x="294.50" y="48.50" width="2.6" height="2.6" fill="#4c6187"/>
<rect x="294.50" y="59.20" width="2.6" height="2.6" fill="#4c6187"/>
<rect x="289.50" y="67.90" width="2.6" height="2.6" fill="#4c6187"/>
<rect x="292.20" y="70.50" width="2.6" height="2.6" fill="#4c6187"/>
<rect x="296.30" y="66.30" width="2.6" height="2.6" fill="#4c6187"/>
<rect x="289.50" y="75.80" width="2.6" height="2.6" fill="#4c6187"/>
<rect x="295.90" y="73.90" width="2.6" height="2.6" fill="#4c6187"/>
<rect x="298.30" y="75.80" width="2.6" height="2.6" fill="#4c6187"/>
<rect x="298.00" y="76.10" width="2.6" height="2.6" fill="#4c6187"/>
<rect x="294.20" y="79.50" width="2.6" height="2.6" fill="#4c6187"/>
<rect x="298.40" y="85.20" width="2.6" height="2.6" fill="#4c6187"/>
<rect x="290.00" y="88.40" width="2.6" height="2.6" fill="#4c6187"/>
<rect x="294.40" y="88.80" width="2.6" height="2.6" fill="#4c6187"/>
<rect x="288.50" y="96.50" width="2.6" height="2.6" fill="#4c6187"/>
<rect x="290.50" y="97.70" width="2.6" height="2.6" fill="#4c6187"/>
<rect x="292.30" y="98.60" width="2.6" height="2.6" fill="#4c6187"/>
<rect x="294.20" y="99.30" width="2.6" height="2.6" fill="#4c6187"/>
<rect x="296.10" y="98.60" width="2.6" height="2.6" fill="#4c6187"/>
<rect x="297.90" y="97.70" width="2.6" height="2.6" fill="#4c6187"/>
<rect x="299.90" y="96.50" width="2.6" height="2.6" fill="#4c6187"/>
<rect x="289.20" y="99.50" width="2.6" height="2.6" fill="#4c6187"/>
<rect x="299.20" y="99.50" width="2.6" height="2.6" fill="#4c6187"/>
<rect x="291.70" y="100.20" width="2.6" height="2.6" fill="#4c6187"/>
<rect x="296.70" y="100.20" width="2.6" height="2.6" fill="#4c6187"/>
<line x1="275.90" y1="87.30" x2="275.90" y2="94.60" stroke="#333" stroke-width="0.7"/>
<line x1="273.40" y1="87.30" x2="278.40" y2="87.30" stroke="#333" stroke-width="0.7"/>
<line x1="273.40" y1="94.60" x2="278.40" y2="94.60" stroke="#333" stroke-width="0.7"/>
<line x1="272.40" y1="90.50" x2="279.40" y2="90.50" stroke="#333" stroke-width="0.7"/>
<line x1="295.50" y1="80.40" x2="295.50" y2="87.30" stroke="#333" stroke-width="0.7"/>
<line x1="293.00" y1="80.40" x2="298.00" y2="80.40" stroke="#333" stroke-width="0.7"/>
<line x1="293.00" y1="87.30" x2="298.00" y2="87.30" stroke="#333" stroke-width="0.7"/>
<line x1="292.00" y1="84.50" x2="299.00" y2="84.50" stroke="#333" stroke-width="0.7"/>
<text x="279.10" y="109.60" font-size="5.6" fill="#333" text-anchor="end" transform="rotate(-45 279.10 109.60)" >&lt;median</text>
<text x="298.70" y="109.60" font-size="5.6" fill="#333" text-anchor="end" transform="rotate(-45 298.70 109.60)" >&gt;median</text>
<line x1="275.90" y1="102.40" x2="275.90" y2="105.60" stroke="#333" stroke-width="0.9"/>
<line x1="295.50" y1="102.40" x2="295.50" y2="105.60" stroke="#333" stroke-width="0.9"/>
<text x="284.50" y="131.60" font-size="5.2" fill="#333" text-anchor="middle" >PI</text>
<text x="324.90" y="67.40" font-size="7.8" fill="#1a1a1a" text-anchor="middle" transform="rotate(-90 324.90 67.40)" textLength="37.2" lengthAdjust="spacingAndGlyphs" ><tspan font-style="italic">CD109</tspan> mRNA</text>
<text x="331.40" y="70.80" font-size="7.1" fill="#1a1a1a" text-anchor="middle" transform="rotate(-90 331.40 70.80)" textLength="62.3" lengthAdjust="spacingAndGlyphs" >(normalized <tspan font-style="italic" font-size="7.38" dy="1.0" stroke="#1a1a1a" stroke-width="0.12">YWHAZ</tspan></text>
<line x1="351.00" y1="30.80" x2="351.00" y2="103.20" stroke="#222" stroke-width="1.3"/>
<line x1="347.50" y1="32.60" x2="351.00" y2="32.60" stroke="#222" stroke-width="1.0"/>
<text x="344.80" y="35.00" font-size="5.0" fill="#555" text-anchor="end" >1.2</text>
<line x1="347.50" y1="50.20" x2="351.00" y2="50.20" stroke="#222" stroke-width="1.0"/>
<text x="344.80" y="52.60" font-size="5.0" fill="#555" text-anchor="end" >0.9</text>
<line x1="347.50" y1="67.90" x2="351.00" y2="67.90" stroke="#222" stroke-width="1.0"/>
<text x="344.80" y="70.30" font-size="5.0" fill="#555" text-anchor="end" >0.6</text>
<line x1="347.50" y1="85.20" x2="351.00" y2="85.20" stroke="#222" stroke-width="1.0"/>
<text x="344.80" y="87.60" font-size="5.0" fill="#555" text-anchor="end" >0.3</text>
<line x1="347.50" y1="102.40" x2="351.00" y2="102.40" stroke="#222" stroke-width="1.0"/>
<text x="344.80" y="104.80" font-size="5.0" fill="#555" text-anchor="end" >0.0</text>
<line x1="351.00" y1="102.40" x2="396.60" y2="102.40" stroke="#222" stroke-width="1.6"/>
<rect x="357.40" y="96.00" width="13.60" height="6.40" fill="#fbeef0" stroke="#c45a6a" stroke-width="0.8"/>
<rect x="377.40" y="86.10" width="13.40" height="16.30" fill="#f2f5fa" stroke="#5a6f95" stroke-width="0.8"/>
<circle cx="364.10" cy="77.60" r="1.3" fill="#a33445"/>
<circle cx="359.70" cy="83.90" r="1.3" fill="#a33445"/>
<circle cx="368.10" cy="83.90" r="1.3" fill="#a33445"/>
<circle cx="363.90" cy="87.10" r="1.3" fill="#a33445"/>
<circle cx="366.10" cy="91.00" r="1.3" fill="#a33445"/>
<circle cx="361.70" cy="93.20" r="1.3" fill="#a33445"/>
<circle cx="368.40" cy="94.20" r="1.3" fill="#a33445"/>
<circle cx="359.20" cy="97.20" r="1.3" fill="#a33445"/>
<circle cx="362.00" cy="97.80" r="1.3" fill="#a33445"/>
<circle cx="366.50" cy="97.60" r="1.3" fill="#a33445"/>
<circle cx="369.40" cy="97.20" r="1.3" fill="#a33445"/>
<circle cx="360.00" cy="99.80" r="1.3" fill="#a33445"/>
<circle cx="364.10" cy="99.40" r="1.3" fill="#a33445"/>
<circle cx="368.50" cy="99.80" r="1.3" fill="#a33445"/>
<circle cx="362.20" cy="101.30" r="1.3" fill="#a33445"/>
<circle cx="366.00" cy="101.30" r="1.3" fill="#a33445"/>
<circle cx="364.10" cy="102.00" r="1.3" fill="#a33445"/>
<circle cx="358.50" cy="101.00" r="1.3" fill="#a33445"/>
<circle cx="369.80" cy="101.00" r="1.3" fill="#a33445"/>
<rect x="382.30" y="43.70" width="2.6" height="2.6" fill="#4c6187"/>
<rect x="378.20" y="60.40" width="2.6" height="2.6" fill="#4c6187"/>
<rect x="384.70" y="60.40" width="2.6" height="2.6" fill="#4c6187"/>
<rect x="380.50" y="62.90" width="2.6" height="2.6" fill="#4c6187"/>
<rect x="384.60" y="66.00" width="2.6" height="2.6" fill="#4c6187"/>
<rect x="384.60" y="77.30" width="2.6" height="2.6" fill="#4c6187"/>
<rect x="380.20" y="80.80" width="2.6" height="2.6" fill="#4c6187"/>
<rect x="383.90" y="80.80" width="2.6" height="2.6" fill="#4c6187"/>
<rect x="384.60" y="88.50" width="2.6" height="2.6" fill="#4c6187"/>
<rect x="380.60" y="90.10" width="2.6" height="2.6" fill="#4c6187"/>
<rect x="386.60" y="92.50" width="2.6" height="2.6" fill="#4c6187"/>
<rect x="378.40" y="94.50" width="2.6" height="2.6" fill="#4c6187"/>
<rect x="382.60" y="96.10" width="2.6" height="2.6" fill="#4c6187"/>
<rect x="379.70" y="98.70" width="2.6" height="2.6" fill="#4c6187"/>
<rect x="381.70" y="97.90" width="2.6" height="2.6" fill="#4c6187"/>
<rect x="383.70" y="98.00" width="2.6" height="2.6" fill="#4c6187"/>
<rect x="385.90" y="98.70" width="2.6" height="2.6" fill="#4c6187"/>
<rect x="378.70" y="100.20" width="2.6" height="2.6" fill="#4c6187"/>
<rect x="381.20" y="100.20" width="2.6" height="2.6" fill="#4c6187"/>
<rect x="383.70" y="100.20" width="2.6" height="2.6" fill="#4c6187"/>
<rect x="386.70" y="100.20" width="2.6" height="2.6" fill="#4c6187"/>
<line x1="364.20" y1="93.80" x2="364.20" y2="98.20" stroke="#333" stroke-width="0.7"/>
<line x1="361.70" y1="93.80" x2="366.70" y2="93.80" stroke="#333" stroke-width="0.7"/>
<line x1="361.70" y1="98.20" x2="366.70" y2="98.20" stroke="#333" stroke-width="0.7"/>
<line x1="360.70" y1="96.00" x2="367.70" y2="96.00" stroke="#333" stroke-width="0.7"/>
<line x1="384.10" y1="81.70" x2="384.10" y2="89.30" stroke="#333" stroke-width="0.7"/>
<line x1="381.60" y1="81.70" x2="386.60" y2="81.70" stroke="#333" stroke-width="0.7"/>
<line x1="381.60" y1="89.30" x2="386.60" y2="89.30" stroke="#333" stroke-width="0.7"/>
<line x1="380.60" y1="86.10" x2="387.60" y2="86.10" stroke="#333" stroke-width="0.7"/>
<text x="367.40" y="109.60" font-size="5.6" fill="#333" text-anchor="end" transform="rotate(-45 367.40 109.60)" >&lt;median</text>
<text x="387.30" y="109.60" font-size="5.6" fill="#333" text-anchor="end" transform="rotate(-45 387.30 109.60)" >&gt;median</text>
<line x1="364.20" y1="102.40" x2="364.20" y2="105.60" stroke="#333" stroke-width="0.9"/>
<line x1="384.10" y1="102.40" x2="384.10" y2="105.60" stroke="#333" stroke-width="0.9"/>
<text x="373.70" y="131.60" font-size="5.2" fill="#333" text-anchor="middle" >PI</text>
<text x="22.10" y="349.60" font-size="7" fill="#111" text-anchor="middle" transform="rotate(-90 22.10 349.60)" textLength="62" lengthAdjust="spacingAndGlyphs" >Number of patients</text>
<line x1="38.90" y1="300.10" x2="38.90" y2="399.00" stroke="#222" stroke-width="1.2"/>
<line x1="36.60" y1="398.40" x2="38.90" y2="398.40" stroke="#222" stroke-width="0.9"/>
<text x="32.70" y="400.50" font-size="5.2" fill="#444" text-anchor="end" >0</text>
<line x1="36.60" y1="382.41" x2="38.90" y2="382.41" stroke="#222" stroke-width="0.9"/>
<text x="32.70" y="384.51" font-size="5.2" fill="#444" text-anchor="end" >3</text>
<line x1="36.60" y1="366.42" x2="38.90" y2="366.42" stroke="#222" stroke-width="0.9"/>
<text x="32.70" y="368.52" font-size="5.2" fill="#444" text-anchor="end" >6</text>
<line x1="36.60" y1="350.43" x2="38.90" y2="350.43" stroke="#222" stroke-width="0.9"/>
<text x="32.70" y="352.53" font-size="5.2" fill="#444" text-anchor="end" >9</text>
<line x1="36.60" y1="334.44" x2="38.90" y2="334.44" stroke="#222" stroke-width="0.9"/>
<text x="32.70" y="336.54" font-size="5.2" fill="#444" text-anchor="end" >12</text>
<line x1="36.60" y1="318.45" x2="38.90" y2="318.45" stroke="#222" stroke-width="0.9"/>
<text x="32.70" y="320.55" font-size="5.2" fill="#444" text-anchor="end" >15</text>
<line x1="36.60" y1="302.46" x2="38.90" y2="302.46" stroke="#222" stroke-width="0.9"/>
<text x="32.70" y="304.56" font-size="5.2" fill="#444" text-anchor="end" >18</text>
<line x1="38.90" y1="398.40" x2="130.80" y2="398.40" stroke="#222" stroke-width="1.2"/>
<line x1="61.00" y1="398.40" x2="61.00" y2="400.60" stroke="#222" stroke-width="0.9"/>
<line x1="111.40" y1="398.40" x2="111.40" y2="400.60" stroke="#222" stroke-width="0.9"/>
<rect x="43.80" y="307.79" width="15.30" height="90.61" fill="#4c6187" stroke="#3b4f74" stroke-width="0.7"/>
<rect x="63.10" y="393.07" width="15.10" height="5.33" fill="#a33445" stroke="#8e1f31" stroke-width="0.7"/>
<rect x="94.70" y="345.10" width="15.30" height="53.30" fill="#4c6187" stroke="#3b4f74" stroke-width="0.7"/>
<rect x="114.00" y="355.76" width="15.10" height="42.64" fill="#a33445" stroke="#8e1f31" stroke-width="0.7"/>
<text x="61.50" y="409.80" font-size="5.3" fill="#333" text-anchor="middle" textLength="21" lengthAdjust="spacingAndGlyphs" >&lt;median</text>
<text x="112.00" y="409.80" font-size="5.3" fill="#333" text-anchor="middle" textLength="20.3" lengthAdjust="spacingAndGlyphs" >&gt;median</text>
<text x="86.20" y="420.40" font-size="7" fill="#111" text-anchor="middle" textLength="35" lengthAdjust="spacingAndGlyphs" >PI category</text>
<rect x="83.80" y="302.90" width="6.20" height="6.10" fill="#a33445" stroke="#8e1f31" stroke-width="0.5"/>
<rect x="83.80" y="313.00" width="6.20" height="5.80" fill="#4c6187" stroke="#3b4f74" stroke-width="0.5"/>
<text x="93.20" y="307.80" font-size="4.8" fill="#6a6a6a" text-anchor="start" textLength="34.6" lengthAdjust="spacingAndGlyphs" >&gt;10% day 16 blasts</text>
<text x="93.20" y="317.90" font-size="4.8" fill="#6a6a6a" text-anchor="start" textLength="34.6" lengthAdjust="spacingAndGlyphs" >&lt;10% day 16 blasts</text>
<text x="67.90" y="338.20" font-size="4.6" fill="#555" text-anchor="start" >χ</text>
<text x="70.60" y="334.60" font-size="3.2" fill="#555" text-anchor="start" >2</text>
<text x="72.40" y="338.20" font-size="4.4" fill="#5a5a5a" text-anchor="start" textLength="29.4" lengthAdjust="spacingAndGlyphs" >=7.26, p=0.0071</text>
<text x="153.60" y="353.75" font-size="8.0" fill="#1a1a1a" text-anchor="middle" transform="rotate(-90 153.60 353.75)" textLength="40" lengthAdjust="spacingAndGlyphs" ><tspan font-style="italic">CALCRL</tspan> mRNA</text>
<text x="160.30" y="357.50" font-size="7.6" fill="#1a1a1a" text-anchor="middle" transform="rotate(-90 160.30 357.50)" textLength="60.7" lengthAdjust="spacingAndGlyphs" >(normalized <tspan font-style="italic" font-size="7.90" dy="1.0" stroke="#1a1a1a" stroke-width="0.12">YWHAZ</tspan></text>
<line x1="182.60" y1="324.40" x2="182.60" y2="383.80" stroke="#222" stroke-width="1.2"/>
<line x1="179.20" y1="327.60" x2="182.60" y2="327.60" stroke="#222" stroke-width="0.9"/>
<text x="175.70" y="329.20" font-size="4.7" fill="#444" text-anchor="end" >0.04</text>
<line x1="179.20" y1="341.50" x2="182.60" y2="341.50" stroke="#222" stroke-width="0.9"/>
<text x="175.70" y="343.10" font-size="4.7" fill="#444" text-anchor="end" >0.03</text>
<line x1="179.20" y1="355.40" x2="182.60" y2="355.40" stroke="#222" stroke-width="0.9"/>
<text x="175.70" y="357.00" font-size="4.7" fill="#444" text-anchor="end" >0.02</text>
<line x1="179.20" y1="369.30" x2="182.60" y2="369.30" stroke="#222" stroke-width="0.9"/>
<text x="175.70" y="370.90" font-size="4.7" fill="#444" text-anchor="end" >0.01</text>
<line x1="179.20" y1="383.20" x2="182.60" y2="383.20" stroke="#222" stroke-width="0.9"/>
<text x="175.70" y="384.80" font-size="4.7" fill="#444" text-anchor="end" >0.00</text>
<line x1="182.60" y1="383.20" x2="263.40" y2="383.20" stroke="#222" stroke-width="1.2"/>
<rect x="184.40" y="376.50" width="7.80" height="6.70" fill="#a33445" stroke="#8e1f31" stroke-width="0.5"/>
<rect x="184.40" y="381.70" width="7.80" height="1.50" fill="#4c6187" stroke="#3b4f74" stroke-width="0.5"/>
<line x1="186.70" y1="376.20" x2="189.90" y2="376.20" stroke="#111" stroke-width="0.9"/>
<line x1="186.70" y1="381.70" x2="189.90" y2="381.70" stroke="#111" stroke-width="0.8"/>
<line x1="188.30" y1="383.20" x2="188.30" y2="385.40" stroke="#222" stroke-width="0.8"/>
<text x="188.30" y="393.90" font-size="5.4" fill="#3a3a3a" text-anchor="middle" font-style="italic" >#1</text>
<rect x="193.90" y="378.00" width="7.30" height="5.20" fill="#a33445" stroke="#8e1f31" stroke-width="0.5"/>
<rect x="193.90" y="380.50" width="7.30" height="2.70" fill="#4c6187" stroke="#3b4f74" stroke-width="0.5"/>
<line x1="195.95" y1="377.70" x2="199.15" y2="377.70" stroke="#111" stroke-width="0.9"/>
<line x1="195.95" y1="380.50" x2="199.15" y2="380.50" stroke="#111" stroke-width="0.8"/>
<line x1="197.55" y1="383.20" x2="197.55" y2="385.40" stroke="#222" stroke-width="0.8"/>
<text x="197.55" y="393.90" font-size="5.4" fill="#3a3a3a" text-anchor="middle" font-style="italic" >#2</text>
<rect x="202.30" y="373.30" width="7.30" height="9.90" fill="#a33445" stroke="#8e1f31" stroke-width="0.5"/>
<rect x="202.30" y="379.60" width="7.30" height="3.60" fill="#4c6187" stroke="#3b4f74" stroke-width="0.5"/>
<line x1="204.35" y1="373.00" x2="207.55" y2="373.00" stroke="#111" stroke-width="0.9"/>
<line x1="205.95" y1="377.30" x2="205.95" y2="379.60" stroke="#111" stroke-width="0.8"/>
<line x1="204.35" y1="377.30" x2="207.55" y2="377.30" stroke="#111" stroke-width="0.9"/>
<line x1="205.95" y1="383.20" x2="205.95" y2="385.40" stroke="#222" stroke-width="0.8"/>
<text x="205.95" y="393.90" font-size="5.4" fill="#3a3a3a" text-anchor="middle" font-style="italic" >#3</text>
<rect x="211.10" y="371.00" width="7.30" height="12.20" fill="#a33445" stroke="#8e1f31" stroke-width="0.5"/>
<rect x="211.10" y="379.60" width="7.30" height="3.60" fill="#4c6187" stroke="#3b4f74" stroke-width="0.5"/>
<line x1="213.15" y1="370.70" x2="216.35" y2="370.70" stroke="#111" stroke-width="0.9"/>
<line x1="213.15" y1="379.60" x2="216.35" y2="379.60" stroke="#111" stroke-width="0.8"/>
<line x1="214.75" y1="383.20" x2="214.75" y2="385.40" stroke="#222" stroke-width="0.8"/>
<text x="214.75" y="393.90" font-size="5.4" fill="#3a3a3a" text-anchor="middle" font-style="italic" >#4</text>
<rect x="220.10" y="379.00" width="7.30" height="4.20" fill="#a33445" stroke="#8e1f31" stroke-width="0.5"/>
<rect x="220.10" y="380.50" width="7.30" height="2.70" fill="#4c6187" stroke="#3b4f74" stroke-width="0.5"/>
<line x1="222.15" y1="378.70" x2="225.35" y2="378.70" stroke="#111" stroke-width="0.9"/>
<line x1="222.15" y1="380.50" x2="225.35" y2="380.50" stroke="#111" stroke-width="0.8"/>
<line x1="223.75" y1="383.20" x2="223.75" y2="385.40" stroke="#222" stroke-width="0.8"/>
<text x="223.75" y="393.90" font-size="5.4" fill="#3a3a3a" text-anchor="middle" font-style="italic" >#5</text>
<rect x="228.50" y="359.70" width="7.80" height="23.50" fill="#a33445" stroke="#8e1f31" stroke-width="0.5"/>
<rect x="228.50" y="368.10" width="7.80" height="15.10" fill="#4c6187" stroke="#3b4f74" stroke-width="0.5"/>
<line x1="232.40" y1="359.00" x2="232.40" y2="359.70" stroke="#111" stroke-width="0.8"/>
<line x1="230.80" y1="359.00" x2="234.00" y2="359.00" stroke="#111" stroke-width="0.9"/>
<line x1="232.40" y1="364.70" x2="232.40" y2="368.10" stroke="#111" stroke-width="0.8"/>
<line x1="230.80" y1="364.70" x2="234.00" y2="364.70" stroke="#111" stroke-width="0.9"/>
<line x1="232.40" y1="383.20" x2="232.40" y2="385.40" stroke="#222" stroke-width="0.8"/>
<text x="232.40" y="393.90" font-size="5.4" fill="#3a3a3a" text-anchor="middle" font-style="italic" >#6</text>
<rect x="237.50" y="366.40" width="7.80" height="16.80" fill="#a33445" stroke="#8e1f31" stroke-width="0.5"/>
<rect x="237.50" y="381.10" width="7.80" height="2.10" fill="#4c6187" stroke="#3b4f74" stroke-width="0.5"/>
<line x1="241.40" y1="363.20" x2="241.40" y2="366.40" stroke="#111" stroke-width="0.8"/>
<line x1="239.80" y1="363.20" x2="243.00" y2="363.20" stroke="#111" stroke-width="0.9"/>
<line x1="239.80" y1="381.10" x2="243.00" y2="381.10" stroke="#111" stroke-width="0.8"/>
<line x1="241.40" y1="383.20" x2="241.40" y2="385.40" stroke="#222" stroke-width="0.8"/>
<text x="241.40" y="393.90" font-size="5.4" fill="#3a3a3a" text-anchor="middle" font-style="italic" >#7</text>
<rect x="246.30" y="362.20" width="7.60" height="21.00" fill="#a33445" stroke="#8e1f31" stroke-width="0.5"/>
<rect x="246.30" y="380.70" width="7.60" height="2.50" fill="#4c6187" stroke="#3b4f74" stroke-width="0.5"/>
<line x1="250.10" y1="358.60" x2="250.10" y2="362.20" stroke="#111" stroke-width="0.8"/>
<line x1="248.50" y1="358.60" x2="251.70" y2="358.60" stroke="#111" stroke-width="0.9"/>
<line x1="248.50" y1="380.70" x2="251.70" y2="380.70" stroke="#111" stroke-width="0.8"/>
<line x1="250.10" y1="383.20" x2="250.10" y2="385.40" stroke="#222" stroke-width="0.8"/>
<text x="250.10" y="393.90" font-size="5.4" fill="#3a3a3a" text-anchor="middle" font-style="italic" >#8</text>
<rect x="255.10" y="357.60" width="8.00" height="25.60" fill="#a33445" stroke="#8e1f31" stroke-width="0.5"/>
<rect x="255.10" y="364.30" width="8.00" height="18.90" fill="#4c6187" stroke="#3b4f74" stroke-width="0.5"/>
<line x1="259.10" y1="356.30" x2="259.10" y2="357.60" stroke="#111" stroke-width="0.8"/>
<line x1="257.50" y1="356.30" x2="260.70" y2="356.30" stroke="#111" stroke-width="0.9"/>
<line x1="257.50" y1="364.30" x2="260.70" y2="364.30" stroke="#111" stroke-width="0.8"/>
<line x1="259.10" y1="383.20" x2="259.10" y2="385.40" stroke="#222" stroke-width="0.8"/>
<text x="259.10" y="393.90" font-size="5.4" fill="#3a3a3a" text-anchor="middle" font-style="italic" >#9</text>
<rect x="185.50" y="328.00" width="3.80" height="3.60" fill="#4c6187" stroke="#3b4f74" stroke-width="0.4"/>
<text x="192.10" y="331.40" font-size="4.3" fill="#555" text-anchor="start" textLength="10.7" lengthAdjust="spacingAndGlyphs" >Onset</text>
<rect x="209.70" y="328.00" width="3.80" height="3.60" fill="#a33445" stroke="#8e1f31" stroke-width="0.4"/>
<text x="216.50" y="331.40" font-size="4.3" fill="#555" text-anchor="start" textLength="14.2" lengthAdjust="spacingAndGlyphs" >Relapse</text>
<text x="241.20" y="345.60" font-size="4.3" fill="#555" text-anchor="start" textLength="17.0" lengthAdjust="spacingAndGlyphs" >P=0.0204</text>
<text x="223.60" y="405.20" font-size="7.6" fill="#111" text-anchor="middle" textLength="31" lengthAdjust="spacingAndGlyphs" >Patient ID</text>
<text x="281.00" y="354.20" font-size="8.0" fill="#1a1a1a" text-anchor="middle" transform="rotate(-90 281.00 354.20)" textLength="29.8" lengthAdjust="spacingAndGlyphs" ><tspan font-style="italic">LSP</tspan> mRNA</text>
<text x="287.00" y="357.00" font-size="7.6" fill="#1a1a1a" text-anchor="middle" transform="rotate(-90 287.00 357.00)" textLength="61.6" lengthAdjust="spacingAndGlyphs" >(normalized <tspan font-style="italic" font-size="7.90" dy="1.0" stroke="#1a1a1a" stroke-width="0.12">YWHAZ</tspan></text>
<line x1="302.80" y1="324.40" x2="302.80" y2="383.60" stroke="#222" stroke-width="1.2"/>
<line x1="299.40" y1="328.00" x2="302.80" y2="328.00" stroke="#222" stroke-width="0.9"/>
<text x="296.30" y="329.60" font-size="4.7" fill="#444" text-anchor="end" >4</text>
<line x1="299.40" y1="341.75" x2="302.80" y2="341.75" stroke="#222" stroke-width="0.9"/>
<text x="296.30" y="343.35" font-size="4.7" fill="#444" text-anchor="end" >3</text>
<line x1="299.40" y1="355.50" x2="302.80" y2="355.50" stroke="#222" stroke-width="0.9"/>
<text x="296.30" y="357.10" font-size="4.7" fill="#444" text-anchor="end" >2</text>
<line x1="299.40" y1="369.25" x2="302.80" y2="369.25" stroke="#222" stroke-width="0.9"/>
<text x="296.30" y="370.85" font-size="4.7" fill="#444" text-anchor="end" >1</text>
<line x1="299.40" y1="383.00" x2="302.80" y2="383.00" stroke="#222" stroke-width="0.9"/>
<text x="296.30" y="384.60" font-size="4.7" fill="#444" text-anchor="end" >0</text>
<line x1="302.80" y1="383.00" x2="385.00" y2="383.00" stroke="#222" stroke-width="1.2"/>
<rect x="304.50" y="352.00" width="7.50" height="31.00" fill="#a33445" stroke="#8e1f31" stroke-width="0.5"/>
<rect x="304.50" y="361.25" width="7.50" height="21.75" fill="#4c6187" stroke="#3b4f74" stroke-width="0.5"/>
<line x1="306.65" y1="351.70" x2="309.85" y2="351.70" stroke="#111" stroke-width="0.9"/>
<line x1="308.25" y1="356.25" x2="308.25" y2="361.25" stroke="#111" stroke-width="0.8"/>
<line x1="306.65" y1="356.25" x2="309.85" y2="356.25" stroke="#111" stroke-width="0.9"/>
<line x1="308.25" y1="383.00" x2="308.25" y2="385.20" stroke="#222" stroke-width="0.8"/>
<text x="308.25" y="393.90" font-size="5.4" fill="#3a3a3a" text-anchor="middle" font-style="italic" >#1</text>
<rect x="313.75" y="374.25" width="6.75" height="8.75" fill="#a33445" stroke="#8e1f31" stroke-width="0.5"/>
<rect x="313.75" y="380.75" width="6.75" height="2.25" fill="#4c6187" stroke="#3b4f74" stroke-width="0.5"/>
<line x1="315.52" y1="373.95" x2="318.73" y2="373.95" stroke="#111" stroke-width="0.9"/>
<line x1="315.52" y1="380.75" x2="318.73" y2="380.75" stroke="#111" stroke-width="0.8"/>
<line x1="317.12" y1="383.00" x2="317.12" y2="385.20" stroke="#222" stroke-width="0.8"/>
<text x="317.12" y="393.90" font-size="5.4" fill="#3a3a3a" text-anchor="middle" font-style="italic" >#2</text>
<rect x="322.50" y="360.00" width="7.00" height="23.00" fill="#a33445" stroke="#8e1f31" stroke-width="0.5"/>
<rect x="322.50" y="370.50" width="7.00" height="12.50" fill="#4c6187" stroke="#3b4f74" stroke-width="0.5"/>
<line x1="326.00" y1="356.75" x2="326.00" y2="360.00" stroke="#111" stroke-width="0.8"/>
<line x1="324.40" y1="356.75" x2="327.60" y2="356.75" stroke="#111" stroke-width="0.9"/>
<line x1="326.00" y1="368.00" x2="326.00" y2="370.50" stroke="#111" stroke-width="0.8"/>
<line x1="324.40" y1="368.00" x2="327.60" y2="368.00" stroke="#111" stroke-width="0.9"/>
<line x1="326.00" y1="383.00" x2="326.00" y2="385.20" stroke="#222" stroke-width="0.8"/>
<text x="326.00" y="393.90" font-size="5.4" fill="#3a3a3a" text-anchor="middle" font-style="italic" >#3</text>
<rect x="331.25" y="358.25" width="7.00" height="24.75" fill="#a33445" stroke="#8e1f31" stroke-width="0.5"/>
<rect x="331.25" y="375.50" width="7.00" height="7.50" fill="#4c6187" stroke="#3b4f74" stroke-width="0.5"/>
<line x1="334.75" y1="354.25" x2="334.75" y2="358.25" stroke="#111" stroke-width="0.8"/>
<line x1="333.15" y1="354.25" x2="336.35" y2="354.25" stroke="#111" stroke-width="0.9"/>
<line x1="333.15" y1="375.50" x2="336.35" y2="375.50" stroke="#111" stroke-width="0.8"/>
<line x1="334.75" y1="383.00" x2="334.75" y2="385.20" stroke="#222" stroke-width="0.8"/>
<text x="334.75" y="393.90" font-size="5.4" fill="#3a3a3a" text-anchor="middle" font-style="italic" >#4</text>
<rect x="340.00" y="345.50" width="7.50" height="37.50" fill="#a33445" stroke="#8e1f31" stroke-width="0.5"/>
<rect x="340.00" y="372.50" width="7.50" height="10.50" fill="#4c6187" stroke="#3b4f74" stroke-width="0.5"/>
<line x1="343.75" y1="344.50" x2="343.75" y2="345.50" stroke="#111" stroke-width="0.8"/>
<line x1="342.15" y1="344.50" x2="345.35" y2="344.50" stroke="#111" stroke-width="0.9"/>
<line x1="342.15" y1="372.50" x2="345.35" y2="372.50" stroke="#111" stroke-width="0.8"/>
<line x1="343.75" y1="383.00" x2="343.75" y2="385.20" stroke="#222" stroke-width="0.8"/>
<text x="343.75" y="393.90" font-size="5.4" fill="#3a3a3a" text-anchor="middle" font-style="italic" >#5</text>
<rect x="349.25" y="378.00" width="6.50" height="5.00" fill="#a33445" stroke="#8e1f31" stroke-width="0.5"/>
<rect x="349.25" y="381.25" width="6.50" height="1.75" fill="#4c6187" stroke="#3b4f74" stroke-width="0.5"/>
<line x1="350.90" y1="377.70" x2="354.10" y2="377.70" stroke="#111" stroke-width="0.9"/>
<line x1="350.90" y1="381.25" x2="354.10" y2="381.25" stroke="#111" stroke-width="0.8"/>
<line x1="352.50" y1="383.00" x2="352.50" y2="385.20" stroke="#222" stroke-width="0.8"/>
<text x="352.50" y="393.90" font-size="5.4" fill="#3a3a3a" text-anchor="middle" font-style="italic" >#6</text>
<rect x="358.00" y="372.00" width="7.00" height="11.00" fill="#a33445" stroke="#8e1f31" stroke-width="0.5"/>
<rect x="358.00" y="380.00" width="7.00" height="3.00" fill="#4c6187" stroke="#3b4f74" stroke-width="0.5"/>
<line x1="359.90" y1="371.70" x2="363.10" y2="371.70" stroke="#111" stroke-width="0.9"/>
<line x1="359.90" y1="380.00" x2="363.10" y2="380.00" stroke="#111" stroke-width="0.8"/>
<line x1="361.50" y1="383.00" x2="361.50" y2="385.20" stroke="#222" stroke-width="0.8"/>
<text x="361.50" y="393.90" font-size="5.4" fill="#3a3a3a" text-anchor="middle" font-style="italic" >#7</text>
<rect x="367.00" y="354.25" width="7.00" height="28.75" fill="#a33445" stroke="#8e1f31" stroke-width="0.5"/>
<rect x="367.00" y="378.25" width="7.00" height="4.75" fill="#4c6187" stroke="#3b4f74" stroke-width="0.5"/>
<line x1="370.50" y1="350.00" x2="370.50" y2="354.25" stroke="#111" stroke-width="0.8"/>
<line x1="368.90" y1="350.00" x2="372.10" y2="350.00" stroke="#111" stroke-width="0.9"/>
<line x1="368.90" y1="378.25" x2="372.10" y2="378.25" stroke="#111" stroke-width="0.8"/>
<line x1="370.50" y1="383.00" x2="370.50" y2="385.20" stroke="#222" stroke-width="0.8"/>
<text x="370.50" y="393.90" font-size="5.4" fill="#3a3a3a" text-anchor="middle" font-style="italic" >#8</text>
<rect x="375.75" y="379.50" width="7.00" height="3.50" fill="#a33445" stroke="#8e1f31" stroke-width="0.5"/>
<rect x="375.75" y="382.00" width="7.00" height="1.00" fill="#4c6187" stroke="#3b4f74" stroke-width="0.5"/>
<line x1="377.65" y1="379.20" x2="380.85" y2="379.20" stroke="#111" stroke-width="0.9"/>
<line x1="377.65" y1="382.00" x2="380.85" y2="382.00" stroke="#111" stroke-width="0.8"/>
<line x1="379.25" y1="383.00" x2="379.25" y2="385.20" stroke="#222" stroke-width="0.8"/>
<text x="379.25" y="393.90" font-size="5.4" fill="#3a3a3a" text-anchor="middle" font-style="italic" >#9</text>
<rect x="305.80" y="328.00" width="3.80" height="3.60" fill="#4c6187" stroke="#3b4f74" stroke-width="0.4"/>
<text x="312.40" y="331.40" font-size="4.3" fill="#555" text-anchor="start" textLength="10.7" lengthAdjust="spacingAndGlyphs" >Onset</text>
<rect x="330.00" y="328.00" width="3.80" height="3.60" fill="#a33445" stroke="#8e1f31" stroke-width="0.4"/>
<text x="336.80" y="331.40" font-size="4.3" fill="#555" text-anchor="start" textLength="14.2" lengthAdjust="spacingAndGlyphs" >Relapse</text>
<text x="356.30" y="339.10" font-size="4.3" fill="#555" text-anchor="start" textLength="16.2" lengthAdjust="spacingAndGlyphs" >P=0.0022</text>
<text x="343.70" y="405.20" font-size="7.6" fill="#111" text-anchor="middle" textLength="31" lengthAdjust="spacingAndGlyphs" >Patient ID</text>
<text x="401.20" y="354.60" font-size="8.0" fill="#1a1a1a" text-anchor="middle" transform="rotate(-90 401.20 354.60)" textLength="34.5" lengthAdjust="spacingAndGlyphs" ><tspan font-style="italic">CD109</tspan> mRNA</text>
<text x="407.00" y="357.40" font-size="7.6" fill="#1a1a1a" text-anchor="middle" transform="rotate(-90 407.00 357.40)" textLength="61.2" lengthAdjust="spacingAndGlyphs" >(normalized <tspan font-style="italic" font-size="7.90" dy="1.0" stroke="#1a1a1a" stroke-width="0.12">YWHAZ</tspan></text>
<line x1="429.80" y1="324.40" x2="429.80" y2="383.60" stroke="#222" stroke-width="1.2"/>
<line x1="426.40" y1="328.00" x2="429.80" y2="328.00" stroke="#222" stroke-width="0.9"/>
<text x="424.50" y="329.60" font-size="4.7" fill="#444" text-anchor="end" >0.20</text>
<line x1="426.40" y1="341.75" x2="429.80" y2="341.75" stroke="#222" stroke-width="0.9"/>
<text x="424.50" y="343.35" font-size="4.7" fill="#444" text-anchor="end" >0.15</text>
<line x1="426.40" y1="355.50" x2="429.80" y2="355.50" stroke="#222" stroke-width="0.9"/>
<text x="424.50" y="357.10" font-size="4.7" fill="#444" text-anchor="end" >0.10</text>
<line x1="426.40" y1="369.25" x2="429.80" y2="369.25" stroke="#222" stroke-width="0.9"/>
<text x="424.50" y="370.85" font-size="4.7" fill="#444" text-anchor="end" >0.05</text>
<line x1="426.40" y1="383.00" x2="429.80" y2="383.00" stroke="#222" stroke-width="0.9"/>
<text x="424.50" y="384.60" font-size="4.7" fill="#444" text-anchor="end" >0.00</text>
<line x1="429.80" y1="383.00" x2="512.00" y2="383.00" stroke="#222" stroke-width="1.2"/>
<rect x="432.00" y="381.75" width="7.50" height="1.25" fill="#a33445" stroke="#8e1f31" stroke-width="0.5"/>
<line x1="434.15" y1="381.45" x2="437.35" y2="381.45" stroke="#111" stroke-width="0.9"/>
<line x1="435.75" y1="383.00" x2="435.75" y2="385.20" stroke="#222" stroke-width="0.8"/>
<text x="435.75" y="393.90" font-size="5.4" fill="#3a3a3a" text-anchor="middle" font-style="italic" >#1</text>
<rect x="441.25" y="363.00" width="7.00" height="20.00" fill="#a33445" stroke="#8e1f31" stroke-width="0.5"/>
<rect x="441.25" y="367.50" width="7.00" height="15.50" fill="#4c6187" stroke="#3b4f74" stroke-width="0.5"/>
<line x1="443.15" y1="362.70" x2="446.35" y2="362.70" stroke="#111" stroke-width="0.9"/>
<line x1="443.15" y1="367.50" x2="446.35" y2="367.50" stroke="#111" stroke-width="0.8"/>
<line x1="444.75" y1="383.00" x2="444.75" y2="385.20" stroke="#222" stroke-width="0.8"/>
<text x="444.75" y="393.90" font-size="5.4" fill="#3a3a3a" text-anchor="middle" font-style="italic" >#2</text>
<rect x="450.00" y="350.00" width="7.00" height="33.00" fill="#a33445" stroke="#8e1f31" stroke-width="0.5"/>
<rect x="450.00" y="371.25" width="7.00" height="11.75" fill="#4c6187" stroke="#3b4f74" stroke-width="0.5"/>
<line x1="453.50" y1="348.50" x2="453.50" y2="350.00" stroke="#111" stroke-width="0.8"/>
<line x1="451.90" y1="348.50" x2="455.10" y2="348.50" stroke="#111" stroke-width="0.9"/>
<line x1="453.50" y1="368.00" x2="453.50" y2="371.25" stroke="#111" stroke-width="0.8"/>
<line x1="451.90" y1="368.00" x2="455.10" y2="368.00" stroke="#111" stroke-width="0.9"/>
<line x1="453.50" y1="383.00" x2="453.50" y2="385.20" stroke="#222" stroke-width="0.8"/>
<text x="453.50" y="393.90" font-size="5.4" fill="#3a3a3a" text-anchor="middle" font-style="italic" >#3</text>
<rect x="458.75" y="371.75" width="7.00" height="11.25" fill="#a33445" stroke="#8e1f31" stroke-width="0.5"/>
<rect x="458.75" y="378.25" width="7.00" height="4.75" fill="#4c6187" stroke="#3b4f74" stroke-width="0.5"/>
<line x1="460.65" y1="371.45" x2="463.85" y2="371.45" stroke="#111" stroke-width="0.9"/>
<line x1="462.25" y1="376.00" x2="462.25" y2="378.25" stroke="#111" stroke-width="0.8"/>
<line x1="460.65" y1="376.00" x2="463.85" y2="376.00" stroke="#111" stroke-width="0.9"/>
<line x1="462.25" y1="383.00" x2="462.25" y2="385.20" stroke="#222" stroke-width="0.8"/>
<text x="462.25" y="393.90" font-size="5.4" fill="#3a3a3a" text-anchor="middle" font-style="italic" >#4</text>
<rect x="467.50" y="378.75" width="7.50" height="4.25" fill="#a33445" stroke="#8e1f31" stroke-width="0.5"/>
<rect x="467.50" y="381.50" width="7.50" height="1.50" fill="#4c6187" stroke="#3b4f74" stroke-width="0.5"/>
<line x1="469.65" y1="378.45" x2="472.85" y2="378.45" stroke="#111" stroke-width="0.9"/>
<line x1="469.65" y1="381.50" x2="472.85" y2="381.50" stroke="#111" stroke-width="0.8"/>
<line x1="471.25" y1="383.00" x2="471.25" y2="385.20" stroke="#222" stroke-width="0.8"/>
<text x="471.25" y="393.90" font-size="5.4" fill="#3a3a3a" text-anchor="middle" font-style="italic" >#5</text>
<rect x="476.25" y="362.50" width="7.50" height="20.50" fill="#a33445" stroke="#8e1f31" stroke-width="0.5"/>
<rect x="476.25" y="376.25" width="7.50" height="6.75" fill="#4c6187" stroke="#3b4f74" stroke-width="0.5"/>
<line x1="480.00" y1="361.00" x2="480.00" y2="362.50" stroke="#111" stroke-width="0.8"/>
<line x1="478.40" y1="361.00" x2="481.60" y2="361.00" stroke="#111" stroke-width="0.9"/>
<line x1="478.40" y1="376.25" x2="481.60" y2="376.25" stroke="#111" stroke-width="0.8"/>
<line x1="480.00" y1="383.00" x2="480.00" y2="385.20" stroke="#222" stroke-width="0.8"/>
<text x="480.00" y="393.90" font-size="5.4" fill="#3a3a3a" text-anchor="middle" font-style="italic" >#6</text>
<rect x="485.50" y="377.50" width="7.00" height="5.50" fill="#a33445" stroke="#8e1f31" stroke-width="0.5"/>
<rect x="485.50" y="381.25" width="7.00" height="1.75" fill="#4c6187" stroke="#3b4f74" stroke-width="0.5"/>
<line x1="487.40" y1="377.20" x2="490.60" y2="377.20" stroke="#111" stroke-width="0.9"/>
<line x1="487.40" y1="381.25" x2="490.60" y2="381.25" stroke="#111" stroke-width="0.8"/>
<line x1="489.00" y1="383.00" x2="489.00" y2="385.20" stroke="#222" stroke-width="0.8"/>
<text x="489.00" y="393.90" font-size="5.4" fill="#3a3a3a" text-anchor="middle" font-style="italic" >#7</text>
<rect x="494.25" y="367.00" width="7.00" height="16.00" fill="#a33445" stroke="#8e1f31" stroke-width="0.5"/>
<rect x="494.25" y="381.75" width="7.00" height="1.25" fill="#4c6187" stroke="#3b4f74" stroke-width="0.5"/>
<line x1="497.75" y1="365.50" x2="497.75" y2="367.00" stroke="#111" stroke-width="0.8"/>
<line x1="496.15" y1="365.50" x2="499.35" y2="365.50" stroke="#111" stroke-width="0.9"/>
<line x1="496.15" y1="381.75" x2="499.35" y2="381.75" stroke="#111" stroke-width="0.8"/>
<line x1="497.75" y1="383.00" x2="497.75" y2="385.20" stroke="#222" stroke-width="0.8"/>
<text x="497.75" y="393.90" font-size="5.4" fill="#3a3a3a" text-anchor="middle" font-style="italic" >#8</text>
<rect x="503.00" y="382.00" width="7.00" height="1.00" fill="#a33445" stroke="#8e1f31" stroke-width="0.5"/>
<line x1="504.90" y1="381.70" x2="508.10" y2="381.70" stroke="#111" stroke-width="0.9"/>
<line x1="506.50" y1="383.00" x2="506.50" y2="385.20" stroke="#222" stroke-width="0.8"/>
<text x="506.50" y="393.90" font-size="5.4" fill="#3a3a3a" text-anchor="middle" font-style="italic" >#9</text>
<rect x="433.20" y="328.00" width="3.80" height="3.60" fill="#4c6187" stroke="#3b4f74" stroke-width="0.4"/>
<text x="439.80" y="331.40" font-size="4.3" fill="#555" text-anchor="start" textLength="10.7" lengthAdjust="spacingAndGlyphs" >Onset</text>
<rect x="457.40" y="328.00" width="3.80" height="3.60" fill="#a33445" stroke="#8e1f31" stroke-width="0.4"/>
<text x="464.20" y="331.40" font-size="4.3" fill="#555" text-anchor="start" textLength="14.2" lengthAdjust="spacingAndGlyphs" >Relapse</text>
<text x="496.30" y="344.10" font-size="4.3" fill="#555" text-anchor="start" textLength="15.5" lengthAdjust="spacingAndGlyphs" >P=0.027</text>
<text x="471.20" y="405.20" font-size="7.6" fill="#111" text-anchor="middle" textLength="31" lengthAdjust="spacingAndGlyphs" >Patient ID</text>
<defs><filter id="bl" x="-50%" y="-100%" width="200%" height="300%"><feGaussianBlur stdDeviation="0.5"/></filter><filter id="bl2" x="-50%" y="-100%" width="200%" height="300%"><feGaussianBlur stdDeviation="0.9"/></filter><linearGradient id="r3g" x1="0" y1="0" x2="0" y2="1"><stop offset="0" stop-color="#dedede"/><stop offset="0.25" stop-color="#e9e9e9"/><stop offset="0.75" stop-color="#ebebeb"/><stop offset="1" stop-color="#e2e2e2"/></linearGradient></defs>
<rect x="148.80" y="166.00" width="112.40" height="18.30" fill="#fafafa"/>
<rect x="261.80" y="166.00" width="112.60" height="18.30" fill="#fafafa"/>
<rect x="374.90" y="166.00" width="112.90" height="18.30" fill="#fafafa"/>
<rect x="148.80" y="186.00" width="112.40" height="20.00" fill="#fbfbfb"/>
<rect x="261.80" y="186.00" width="112.60" height="20.00" fill="#fbfbfb"/>
<rect x="374.90" y="186.00" width="112.90" height="20.00" fill="#fbfbfb"/>
<rect x="148.80" y="208.00" width="112.40" height="18.40" fill="url(#r3g)"/>
<rect x="261.80" y="208.00" width="112.60" height="18.40" fill="url(#r3g)"/>
<rect x="374.90" y="208.00" width="112.90" height="18.40" fill="url(#r3g)"/>
<rect x="148.80" y="229.40" width="112.40" height="20.10" fill="#fafafa"/>
<rect x="261.80" y="229.40" width="112.60" height="20.10" fill="#fafafa"/>
<rect x="374.90" y="229.40" width="112.90" height="20.10" fill="#fafafa"/>
<ellipse cx="280.75" cy="175.00" rx="3.45" ry="0.90" fill="#000" fill-opacity="0.60" filter="url(#bl)"/>
<ellipse cx="295.45" cy="175.00" rx="4.95" ry="1.50" fill="#000" fill-opacity="0.97" filter="url(#bl)"/>
<ellipse cx="308.70" cy="175.00" rx="4.40" ry="0.90" fill="#000" fill-opacity="0.55" filter="url(#bl)"/>
<ellipse cx="321.70" cy="175.00" rx="5.20" ry="1.10" fill="#000" fill-opacity="0.80" filter="url(#bl)"/>
<ellipse cx="334.40" cy="175.00" rx="2.90" ry="0.75" fill="#000" fill-opacity="0.15" filter="url(#bl)"/>
<ellipse cx="348.25" cy="175.00" rx="4.05" ry="0.75" fill="#000" fill-opacity="0.15" filter="url(#bl)"/>
<ellipse cx="363.50" cy="175.00" rx="2.50" ry="0.75" fill="#000" fill-opacity="0.06" filter="url(#bl)"/>
<ellipse cx="295.50" cy="171.00" rx="4.50" ry="0.75" fill="#000" fill-opacity="0.20" filter="url(#bl)"/>
<ellipse cx="321.50" cy="172.00" rx="4.50" ry="0.65" fill="#000" fill-opacity="0.12" filter="url(#bl)"/>
<ellipse cx="394.25" cy="175.70" rx="4.25" ry="1.10" fill="#000" fill-opacity="0.90" filter="url(#bl)"/>
<ellipse cx="394.25" cy="171.20" rx="4.25" ry="0.70" fill="#000" fill-opacity="0.20" filter="url(#bl)"/>
<ellipse cx="404.90" cy="176.00" rx="2.90" ry="0.75" fill="#000" fill-opacity="0.15" filter="url(#bl)"/>
<path d="M148.3 179.5 L150.8 181.2 L148.3 183" fill="#111"/>
<path d="M374.2 166.5 Q376.8 170 375 172.5 Q373.5 175 375.8 178 Q377 181 374.6 184" stroke="#111" stroke-width="1.6" fill="none"/>
<path d="M374.2 208.5 Q376.8 212 375 215 Q373.5 219 375.8 222 Q377 224 374.6 226.4" stroke="#111" stroke-width="1.2" fill="none"/>
<ellipse cx="156.50" cy="197.20" rx="4.00" ry="1.05" fill="#000" fill-opacity="0.60" filter="url(#bl)"/>
<ellipse cx="169.15" cy="197.40" rx="3.75" ry="0.75" fill="#000" fill-opacity="0.12" filter="url(#bl)"/>
<ellipse cx="181.80" cy="197.20" rx="4.50" ry="1.00" fill="#000" fill-opacity="0.50" filter="url(#bl)"/>
<ellipse cx="195.00" cy="196.90" rx="5.00" ry="1.40" fill="#000" fill-opacity="0.85" filter="url(#bl)"/>
<ellipse cx="209.00" cy="196.80" rx="5.50" ry="1.65" fill="#000" fill-opacity="0.97" filter="url(#bl)"/>
<ellipse cx="223.75" cy="196.80" rx="6.75" ry="1.70" fill="#000" fill-opacity="0.98" filter="url(#bl)"/>
<ellipse cx="237.00" cy="196.90" rx="4.70" ry="1.20" fill="#000" fill-opacity="0.70" filter="url(#bl)"/>
<ellipse cx="250.00" cy="197.00" rx="4.00" ry="1.00" fill="#000" fill-opacity="0.40" filter="url(#bl)"/>
<ellipse cx="268.90" cy="196.50" rx="5.40" ry="1.15" fill="#000" fill-opacity="0.68" filter="url(#bl)"/>
<ellipse cx="282.85" cy="196.60" rx="4.85" ry="1.15" fill="#000" fill-opacity="0.62" filter="url(#bl)"/>
<ellipse cx="295.80" cy="196.90" rx="4.60" ry="1.00" fill="#000" fill-opacity="0.50" filter="url(#bl)"/>
<ellipse cx="310.20" cy="197.50" rx="4.00" ry="0.75" fill="#000" fill-opacity="0.15" filter="url(#bl)"/>
<ellipse cx="323.50" cy="198.00" rx="4.60" ry="1.15" fill="#000" fill-opacity="0.62" filter="url(#bl)"/>
<ellipse cx="336.95" cy="198.00" rx="4.25" ry="1.15" fill="#000" fill-opacity="0.68" filter="url(#bl)"/>
<ellipse cx="350.25" cy="198.80" rx="4.35" ry="1.05" fill="#000" fill-opacity="0.50" filter="url(#bl)"/>
<ellipse cx="363.60" cy="199.00" rx="4.40" ry="0.95" fill="#000" fill-opacity="0.40" filter="url(#bl)"/>
<ellipse cx="383.50" cy="196.60" rx="3.00" ry="0.70" fill="#000" fill-opacity="0.14" filter="url(#bl)"/>
<ellipse cx="393.10" cy="196.50" rx="3.80" ry="0.95" fill="#000" fill-opacity="0.40" filter="url(#bl)"/>
<ellipse cx="405.40" cy="196.50" rx="4.60" ry="1.10" fill="#000" fill-opacity="0.65" filter="url(#bl)"/>
<ellipse cx="417.90" cy="196.60" rx="4.40" ry="1.10" fill="#000" fill-opacity="0.60" filter="url(#bl)"/>
<ellipse cx="430.15" cy="196.70" rx="4.65" ry="1.10" fill="#000" fill-opacity="0.60" filter="url(#bl)"/>
<ellipse cx="441.85" cy="197.00" rx="2.85" ry="0.70" fill="#000" fill-opacity="0.12" filter="url(#bl)"/>
<ellipse cx="453.90" cy="197.20" rx="4.60" ry="1.10" fill="#000" fill-opacity="0.60" filter="url(#bl)"/>
<ellipse cx="466.60" cy="198.00" rx="3.40" ry="0.90" fill="#000" fill-opacity="0.35" filter="url(#bl)"/>
<ellipse cx="478.15" cy="198.60" rx="4.65" ry="1.60" fill="#000" fill-opacity="0.99" filter="url(#bl)"/>
<ellipse cx="156.00" cy="214.00" rx="5.50" ry="1.10" fill="#000" fill-opacity="0.12" filter="url(#bl2)"/>
<ellipse cx="156.00" cy="217.40" rx="5.50" ry="1.00" fill="#000" fill-opacity="0.25" filter="url(#bl2)"/>
<ellipse cx="169.43" cy="214.00" rx="5.50" ry="1.00" fill="#000" fill-opacity="0.60" filter="url(#bl)"/>
<ellipse cx="169.43" cy="217.40" rx="5.50" ry="1.00" fill="#000" fill-opacity="0.50" filter="url(#bl)"/>
<ellipse cx="182.86" cy="214.00" rx="5.50" ry="1.10" fill="#000" fill-opacity="0.12" filter="url(#bl2)"/>
<ellipse cx="182.86" cy="217.40" rx="5.50" ry="1.00" fill="#000" fill-opacity="0.22" filter="url(#bl2)"/>
<ellipse cx="196.29" cy="214.00" rx="5.50" ry="1.10" fill="#000" fill-opacity="0.10" filter="url(#bl2)"/>
<ellipse cx="196.29" cy="217.40" rx="5.50" ry="1.00" fill="#000" fill-opacity="0.18" filter="url(#bl2)"/>
<ellipse cx="209.72" cy="214.00" rx="5.50" ry="1.10" fill="#000" fill-opacity="0.30" filter="url(#bl2)"/>
<ellipse cx="209.72" cy="217.40" rx="5.50" ry="1.00" fill="#000" fill-opacity="0.35" filter="url(#bl2)"/>
<ellipse cx="223.15" cy="214.00" rx="5.50" ry="1.10" fill="#000" fill-opacity="0.10" filter="url(#bl2)"/>
<ellipse cx="223.15" cy="217.40" rx="5.50" ry="1.00" fill="#000" fill-opacity="0.15" filter="url(#bl2)"/>
<ellipse cx="236.58" cy="213.70" rx="5.50" ry="1.40" fill="#000" fill-opacity="0.95" filter="url(#bl)"/>
<ellipse cx="236.58" cy="217.40" rx="5.50" ry="1.00" fill="#000" fill-opacity="0.70" filter="url(#bl)"/>
<path d="M244.81 213.8 Q250.01 212.9 255.21 212.5" stroke="#000" stroke-opacity="0.95" stroke-width="2.6" stroke-linecap="round" fill="none" filter="url(#bl)"/>
<ellipse cx="250.01" cy="217.40" rx="5.50" ry="1.00" fill="#000" fill-opacity="0.50" filter="url(#bl)"/>
<ellipse cx="269.40" cy="214.00" rx="5.50" ry="1.10" fill="#000" fill-opacity="0.18" filter="url(#bl2)"/>
<ellipse cx="269.40" cy="217.20" rx="5.50" ry="1.00" fill="#000" fill-opacity="0.20" filter="url(#bl2)"/>
<ellipse cx="282.96" cy="214.00" rx="5.50" ry="1.10" fill="#000" fill-opacity="0.10" filter="url(#bl2)"/>
<ellipse cx="282.96" cy="217.20" rx="5.50" ry="1.00" fill="#000" fill-opacity="0.12" filter="url(#bl2)"/>
<ellipse cx="296.52" cy="214.00" rx="5.50" ry="1.30" fill="#000" fill-opacity="0.60" filter="url(#bl)"/>
<ellipse cx="296.52" cy="217.20" rx="5.50" ry="1.00" fill="#000" fill-opacity="0.15" filter="url(#bl2)"/>
<ellipse cx="310.08" cy="214.00" rx="5.50" ry="1.10" fill="#000" fill-opacity="0.06" filter="url(#bl2)"/>
<ellipse cx="310.08" cy="217.20" rx="5.50" ry="1.00" fill="#000" fill-opacity="0.06" filter="url(#bl2)"/>
<ellipse cx="323.64" cy="214.00" rx="5.50" ry="1.10" fill="#000" fill-opacity="0.25" filter="url(#bl2)"/>
<ellipse cx="323.64" cy="217.20" rx="5.50" ry="1.00" fill="#000" fill-opacity="0.22" filter="url(#bl2)"/>
<ellipse cx="337.20" cy="214.00" rx="5.50" ry="1.10" fill="#000" fill-opacity="0.30" filter="url(#bl2)"/>
<ellipse cx="337.20" cy="217.20" rx="5.50" ry="1.00" fill="#000" fill-opacity="0.28" filter="url(#bl2)"/>
<ellipse cx="350.76" cy="214.00" rx="5.50" ry="1.10" fill="#000" fill-opacity="0.08" filter="url(#bl2)"/>
<ellipse cx="350.76" cy="217.20" rx="5.50" ry="1.00" fill="#000" fill-opacity="0.08" filter="url(#bl2)"/>
<ellipse cx="364.32" cy="214.00" rx="5.50" ry="1.10" fill="#000" fill-opacity="0.15" filter="url(#bl2)"/>
<ellipse cx="364.32" cy="217.20" rx="5.50" ry="1.00" fill="#000" fill-opacity="0.15" filter="url(#bl2)"/>
<ellipse cx="381.50" cy="213.40" rx="5.50" ry="1.00" fill="#000" fill-opacity="0.35" filter="url(#bl2)"/>
<ellipse cx="381.50" cy="216.00" rx="5.50" ry="1.00" fill="#000" fill-opacity="0.30" filter="url(#bl2)"/>
<ellipse cx="393.60" cy="213.40" rx="5.50" ry="1.00" fill="#000" fill-opacity="0.40" filter="url(#bl2)"/>
<ellipse cx="393.60" cy="216.00" rx="5.50" ry="1.00" fill="#000" fill-opacity="0.35" filter="url(#bl2)"/>
<ellipse cx="405.70" cy="213.40" rx="5.50" ry="1.00" fill="#000" fill-opacity="0.40" filter="url(#bl2)"/>
<ellipse cx="405.70" cy="216.00" rx="5.50" ry="1.00" fill="#000" fill-opacity="0.35" filter="url(#bl2)"/>
<ellipse cx="417.80" cy="213.40" rx="5.50" ry="1.00" fill="#000" fill-opacity="0.12" filter="url(#bl2)"/>
<ellipse cx="417.80" cy="216.00" rx="5.50" ry="1.00" fill="#000" fill-opacity="0.12" filter="url(#bl2)"/>
<ellipse cx="429.90" cy="213.40" rx="5.50" ry="1.00" fill="#000" fill-opacity="0.15" filter="url(#bl2)"/>
<ellipse cx="429.90" cy="216.00" rx="5.50" ry="1.00" fill="#000" fill-opacity="0.15" filter="url(#bl2)"/>
<ellipse cx="442.00" cy="213.40" rx="5.50" ry="1.00" fill="#000" fill-opacity="0.12" filter="url(#bl2)"/>
<ellipse cx="442.00" cy="216.00" rx="5.50" ry="1.00" fill="#000" fill-opacity="0.12" filter="url(#bl2)"/>
<ellipse cx="454.10" cy="213.40" rx="5.50" ry="1.00" fill="#000" fill-opacity="0.10" filter="url(#bl2)"/>
<ellipse cx="454.10" cy="216.00" rx="5.50" ry="1.00" fill="#000" fill-opacity="0.10" filter="url(#bl2)"/>
<ellipse cx="466.20" cy="213.40" rx="5.50" ry="1.00" fill="#000" fill-opacity="0.25" filter="url(#bl2)"/>
<ellipse cx="466.20" cy="216.00" rx="5.50" ry="1.00" fill="#000" fill-opacity="0.25" filter="url(#bl2)"/>
<ellipse cx="481.75" cy="214.70" rx="3.75" ry="1.60" fill="#000" fill-opacity="1.00" filter="url(#bl)"/>
<circle cx="315.4" cy="218.4" r="0.7" fill="#222" filter="url(#bl)"/>
<circle cx="269.5" cy="222.5" r="0.6" fill="#444" filter="url(#bl)"/>
<rect x="150.60" y="237.90" width="11.40" height="4.80" rx="2.4" ry="2.40" fill="#000" fill-opacity="0.97" filter="url(#bl)"/>
<rect x="163.40" y="238.00" width="11.60" height="4.60" rx="2.4" ry="2.30" fill="#000" fill-opacity="0.97" filter="url(#bl)"/>
<rect x="177.90" y="238.30" width="11.60" height="3.80" rx="2.4" ry="1.90" fill="#000" fill-opacity="0.97" filter="url(#bl)"/>
<rect x="191.80" y="238.10" width="11.10" height="4.60" rx="2.4" ry="2.30" fill="#000" fill-opacity="0.97" filter="url(#bl)"/>
<rect x="204.50" y="238.00" width="12.50" height="4.60" rx="2.4" ry="2.30" fill="#000" fill-opacity="0.97" filter="url(#bl)"/>
<rect x="219.20" y="237.70" width="11.60" height="5.00" rx="2.4" ry="2.50" fill="#000" fill-opacity="0.97" filter="url(#bl)"/>
<rect x="232.00" y="237.80" width="11.50" height="5.00" rx="2.4" ry="2.50" fill="#000" fill-opacity="0.97" filter="url(#bl)"/>
<rect x="245.30" y="237.40" width="11.60" height="5.40" rx="2.4" ry="2.70" fill="#000" fill-opacity="0.97" filter="url(#bl)"/>
<rect x="263.50" y="236.10" width="11.10" height="4.60" rx="2.4" ry="2.30" fill="#000" fill-opacity="0.97" filter="url(#bl)"/>
<rect x="275.60" y="236.10" width="11.50" height="4.60" rx="2.4" ry="2.30" fill="#000" fill-opacity="0.97" filter="url(#bl)"/>
<rect x="290.50" y="236.50" width="11.10" height="4.00" rx="2.4" ry="2.00" fill="#000" fill-opacity="0.97" filter="url(#bl)"/>
<rect x="303.90" y="236.20" width="11.10" height="4.80" rx="2.4" ry="2.40" fill="#000" fill-opacity="0.97" filter="url(#bl)"/>
<rect x="316.70" y="236.20" width="12.10" height="4.60" rx="2.4" ry="2.30" fill="#000" fill-opacity="0.97" filter="url(#bl)"/>
<rect x="330.60" y="235.90" width="12.10" height="4.80" rx="2.4" ry="2.40" fill="#000" fill-opacity="0.97" filter="url(#bl)"/>
<rect x="344.40" y="235.90" width="11.40" height="5.00" rx="2.4" ry="2.50" fill="#000" fill-opacity="0.97" filter="url(#bl)"/>
<rect x="357.20" y="235.60" width="12.50" height="5.20" rx="2.4" ry="2.60" fill="#000" fill-opacity="0.97" filter="url(#bl)"/>
<rect x="376.30" y="236.10" width="11.10" height="4.80" rx="2.4" ry="2.40" fill="#000" fill-opacity="0.97" filter="url(#bl)"/>
<rect x="388.50" y="236.30" width="11.30" height="4.60" rx="2.4" ry="2.30" fill="#000" fill-opacity="0.97" filter="url(#bl)"/>
<rect x="400.80" y="236.30" width="11.10" height="4.60" rx="2.4" ry="2.30" fill="#000" fill-opacity="0.97" filter="url(#bl)"/>
<rect x="412.90" y="236.20" width="11.10" height="4.80" rx="2.4" ry="2.40" fill="#000" fill-opacity="0.97" filter="url(#bl)"/>
<rect x="425.00" y="236.20" width="11.10" height="4.80" rx="2.4" ry="2.40" fill="#000" fill-opacity="0.97" filter="url(#bl)"/>
<rect x="437.10" y="236.40" width="11.10" height="4.80" rx="2.4" ry="2.40" fill="#000" fill-opacity="0.97" filter="url(#bl)"/>
<rect x="449.30" y="237.90" width="11.00" height="5.40" rx="2.4" ry="2.70" fill="#000" fill-opacity="0.97" filter="url(#bl)"/>
<rect x="461.40" y="238.40" width="11.00" height="5.60" rx="2.4" ry="2.80" fill="#000" fill-opacity="0.97" filter="url(#bl)"/>
<rect x="472.80" y="236.60" width="11.20" height="5.20" rx="2.4" ry="2.60" fill="#000" fill-opacity="0.97" filter="url(#bl)"/>
<rect x="148.80" y="166.00" width="112.40" height="18.30" fill="none" stroke="#505050" stroke-width="1.5"/>
<rect x="261.80" y="166.00" width="112.60" height="18.30" fill="none" stroke="#505050" stroke-width="1.5"/>
<rect x="374.90" y="166.00" width="112.90" height="18.30" fill="none" stroke="#505050" stroke-width="1.5"/>
<rect x="148.80" y="186.00" width="112.40" height="20.00" fill="none" stroke="#505050" stroke-width="1.5"/>
<rect x="261.80" y="186.00" width="112.60" height="20.00" fill="none" stroke="#505050" stroke-width="1.5"/>
<rect x="374.90" y="186.00" width="112.90" height="20.00" fill="none" stroke="#505050" stroke-width="1.5"/>
<rect x="148.80" y="208.00" width="112.40" height="18.40" fill="none" stroke="#505050" stroke-width="1.5"/>
<rect x="261.80" y="208.00" width="112.60" height="18.40" fill="none" stroke="#505050" stroke-width="1.5"/>
<rect x="374.90" y="208.00" width="112.90" height="18.40" fill="none" stroke="#505050" stroke-width="1.5"/>
<rect x="148.80" y="229.40" width="112.40" height="20.10" fill="none" stroke="#505050" stroke-width="1.5"/>
<rect x="261.80" y="229.40" width="112.60" height="20.10" fill="none" stroke="#505050" stroke-width="1.5"/>
<rect x="374.90" y="229.40" width="112.90" height="20.10" fill="none" stroke="#505050" stroke-width="1.5"/>
<text x="155.60" y="162.20" font-size="5.2" fill="#111" text-anchor="start" font-style="italic" transform="rotate(-90 155.60 162.20)" textLength="5.2" lengthAdjust="spacingAndGlyphs" >#1</text>
<text x="167.80" y="162.20" font-size="5.2" fill="#111" text-anchor="start" font-style="italic" transform="rotate(-90 167.80 162.20)" textLength="5.2" lengthAdjust="spacingAndGlyphs" >#2</text>
<text x="180.10" y="162.20" font-size="5.2" fill="#111" text-anchor="start" font-style="italic" transform="rotate(-90 180.10 162.20)" textLength="5.2" lengthAdjust="spacingAndGlyphs" >#3</text>
<text x="192.30" y="162.20" font-size="5.2" fill="#111" text-anchor="start" font-style="italic" transform="rotate(-90 192.30 162.20)" textLength="5.2" lengthAdjust="spacingAndGlyphs" >#4</text>
<text x="205.00" y="162.20" font-size="5.2" fill="#111" text-anchor="start" font-style="italic" transform="rotate(-90 205.00 162.20)" textLength="5.2" lengthAdjust="spacingAndGlyphs" >#5</text>
<text x="217.20" y="162.20" font-size="5.2" fill="#111" text-anchor="start" font-style="italic" transform="rotate(-90 217.20 162.20)" textLength="5.2" lengthAdjust="spacingAndGlyphs" >#6</text>
<text x="229.40" y="162.20" font-size="5.2" fill="#111" text-anchor="start" font-style="italic" transform="rotate(-90 229.40 162.20)" textLength="5.2" lengthAdjust="spacingAndGlyphs" >#6</text>
<text x="242.10" y="162.20" font-size="5.2" fill="#111" text-anchor="start" font-style="italic" transform="rotate(-90 242.10 162.20)" textLength="5.2" lengthAdjust="spacingAndGlyphs" >#7</text>
<text x="254.30" y="162.20" font-size="5.2" fill="#111" text-anchor="start" font-style="italic" transform="rotate(-90 254.30 162.20)" textLength="5.2" lengthAdjust="spacingAndGlyphs" >#8</text>
<text x="270.80" y="162.20" font-size="5.2" fill="#111" text-anchor="start" font-style="italic" transform="rotate(-90 270.80 162.20)" textLength="5.2" lengthAdjust="spacingAndGlyphs" >#9</text>
<text x="283.80" y="162.20" font-size="5.2" fill="#111" text-anchor="start" font-style="italic" transform="rotate(-90 283.80 162.20)" textLength="7.8" lengthAdjust="spacingAndGlyphs" >#10</text>
<text x="296.60" y="162.20" font-size="5.2" fill="#111" text-anchor="start" font-style="italic" transform="rotate(-90 296.60 162.20)" textLength="7.8" lengthAdjust="spacingAndGlyphs" >#11</text>
<text x="310.00" y="162.20" font-size="5.2" fill="#111" text-anchor="start" font-style="italic" transform="rotate(-90 310.00 162.20)" textLength="7.8" lengthAdjust="spacingAndGlyphs" >#12</text>
<text x="323.80" y="162.20" font-size="5.2" fill="#111" text-anchor="start" font-style="italic" transform="rotate(-90 323.80 162.20)" textLength="7.8" lengthAdjust="spacingAndGlyphs" >#13</text>
<text x="337.30" y="162.20" font-size="5.2" fill="#111" text-anchor="start" font-style="italic" transform="rotate(-90 337.30 162.20)" textLength="7.8" lengthAdjust="spacingAndGlyphs" >#14</text>
<text x="350.60" y="162.20" font-size="5.2" fill="#111" text-anchor="start" font-style="italic" transform="rotate(-90 350.60 162.20)" textLength="7.8" lengthAdjust="spacingAndGlyphs" >#15</text>
<text x="364.10" y="162.20" font-size="5.2" fill="#111" text-anchor="start" font-style="italic" transform="rotate(-90 364.10 162.20)" textLength="7.8" lengthAdjust="spacingAndGlyphs" >#16</text>
<text x="384.80" y="162.20" font-size="5.2" fill="#111" text-anchor="start" font-style="italic" transform="rotate(-90 384.80 162.20)" textLength="7.8" lengthAdjust="spacingAndGlyphs" >#17</text>
<text x="397.20" y="162.20" font-size="5.2" fill="#111" text-anchor="start" font-style="italic" transform="rotate(-90 397.20 162.20)" textLength="7.8" lengthAdjust="spacingAndGlyphs" >#18</text>
<text x="407.80" y="162.20" font-size="5.2" fill="#111" text-anchor="start" font-style="italic" transform="rotate(-90 407.80 162.20)" textLength="7.8" lengthAdjust="spacingAndGlyphs" >#19</text>
<text x="419.40" y="162.20" font-size="5.2" fill="#111" text-anchor="start" font-style="italic" transform="rotate(-90 419.40 162.20)" textLength="7.8" lengthAdjust="spacingAndGlyphs" >#20</text>
<text x="431.80" y="162.20" font-size="5.2" fill="#111" text-anchor="start" font-style="italic" transform="rotate(-90 431.80 162.20)" textLength="7.8" lengthAdjust="spacingAndGlyphs" >#21</text>
<text x="443.90" y="162.20" font-size="5.2" fill="#111" text-anchor="start" font-style="italic" transform="rotate(-90 443.90 162.20)" textLength="7.8" lengthAdjust="spacingAndGlyphs" >#22</text>
<text x="456.00" y="162.20" font-size="5.2" fill="#111" text-anchor="start" font-style="italic" transform="rotate(-90 456.00 162.20)" textLength="7.8" lengthAdjust="spacingAndGlyphs" >#23</text>
<text x="468.40" y="162.20" font-size="5.2" fill="#111" text-anchor="start" font-style="italic" transform="rotate(-90 468.40 162.20)" textLength="7.8" lengthAdjust="spacingAndGlyphs" >#24</text>
<text x="480.00" y="162.20" font-size="5.2" fill="#111" text-anchor="start" font-style="italic" transform="rotate(-90 480.00 162.20)" textLength="9.5" lengthAdjust="spacingAndGlyphs" >KG1</text>
<text x="146.00" y="184.00" font-size="4.8" fill="#222" text-anchor="end" >50</text>
<text x="146.00" y="201.40" font-size="4.8" fill="#222" text-anchor="end" >50</text>
<text x="146.00" y="215.00" font-size="4.8" fill="#222" text-anchor="end" >170</text>
<text x="146.00" y="221.20" font-size="4.8" fill="#222" text-anchor="end" >150</text>
<text x="146.00" y="241.60" font-size="4.8" fill="#222" text-anchor="end" >43</text>
<text x="490.80" y="175.50" font-size="5.2" fill="#222" text-anchor="start" >CALCRL</text>
<text x="490.80" y="197.20" font-size="5.2" fill="#222" text-anchor="start" >LSP1</text>
<text x="490.80" y="219.30" font-size="5.2" fill="#222" text-anchor="start" >CD109</text>
<text x="490.80" y="241.00" font-size="5.2" fill="#222" text-anchor="start" >β-actin</text>
<rect x="0" y="0" width="520" height="1" fill="#050505"/>
<rect x="0" y="1" width="520" height="1" fill="#d8d8d8"/>
<rect x="0" y="427" width="520" height="1" fill="#959595"/>
<rect x="0" y="428" width="520" height="1" fill="#474747"/>
<rect x="1" y="0" width="1" height="429" fill="#a0a0a0"/>
<rect x="0" y="0" width="1" height="429" fill="#474747"/>
<rect x="518" y="0" width="1" height="429" fill="#959595"/>
<rect x="519" y="0" width="1" height="429" fill="#474747"/>
<rect x="0" y="0" width="520" height="1" fill="#050505"/>
</svg></div></body></html>
